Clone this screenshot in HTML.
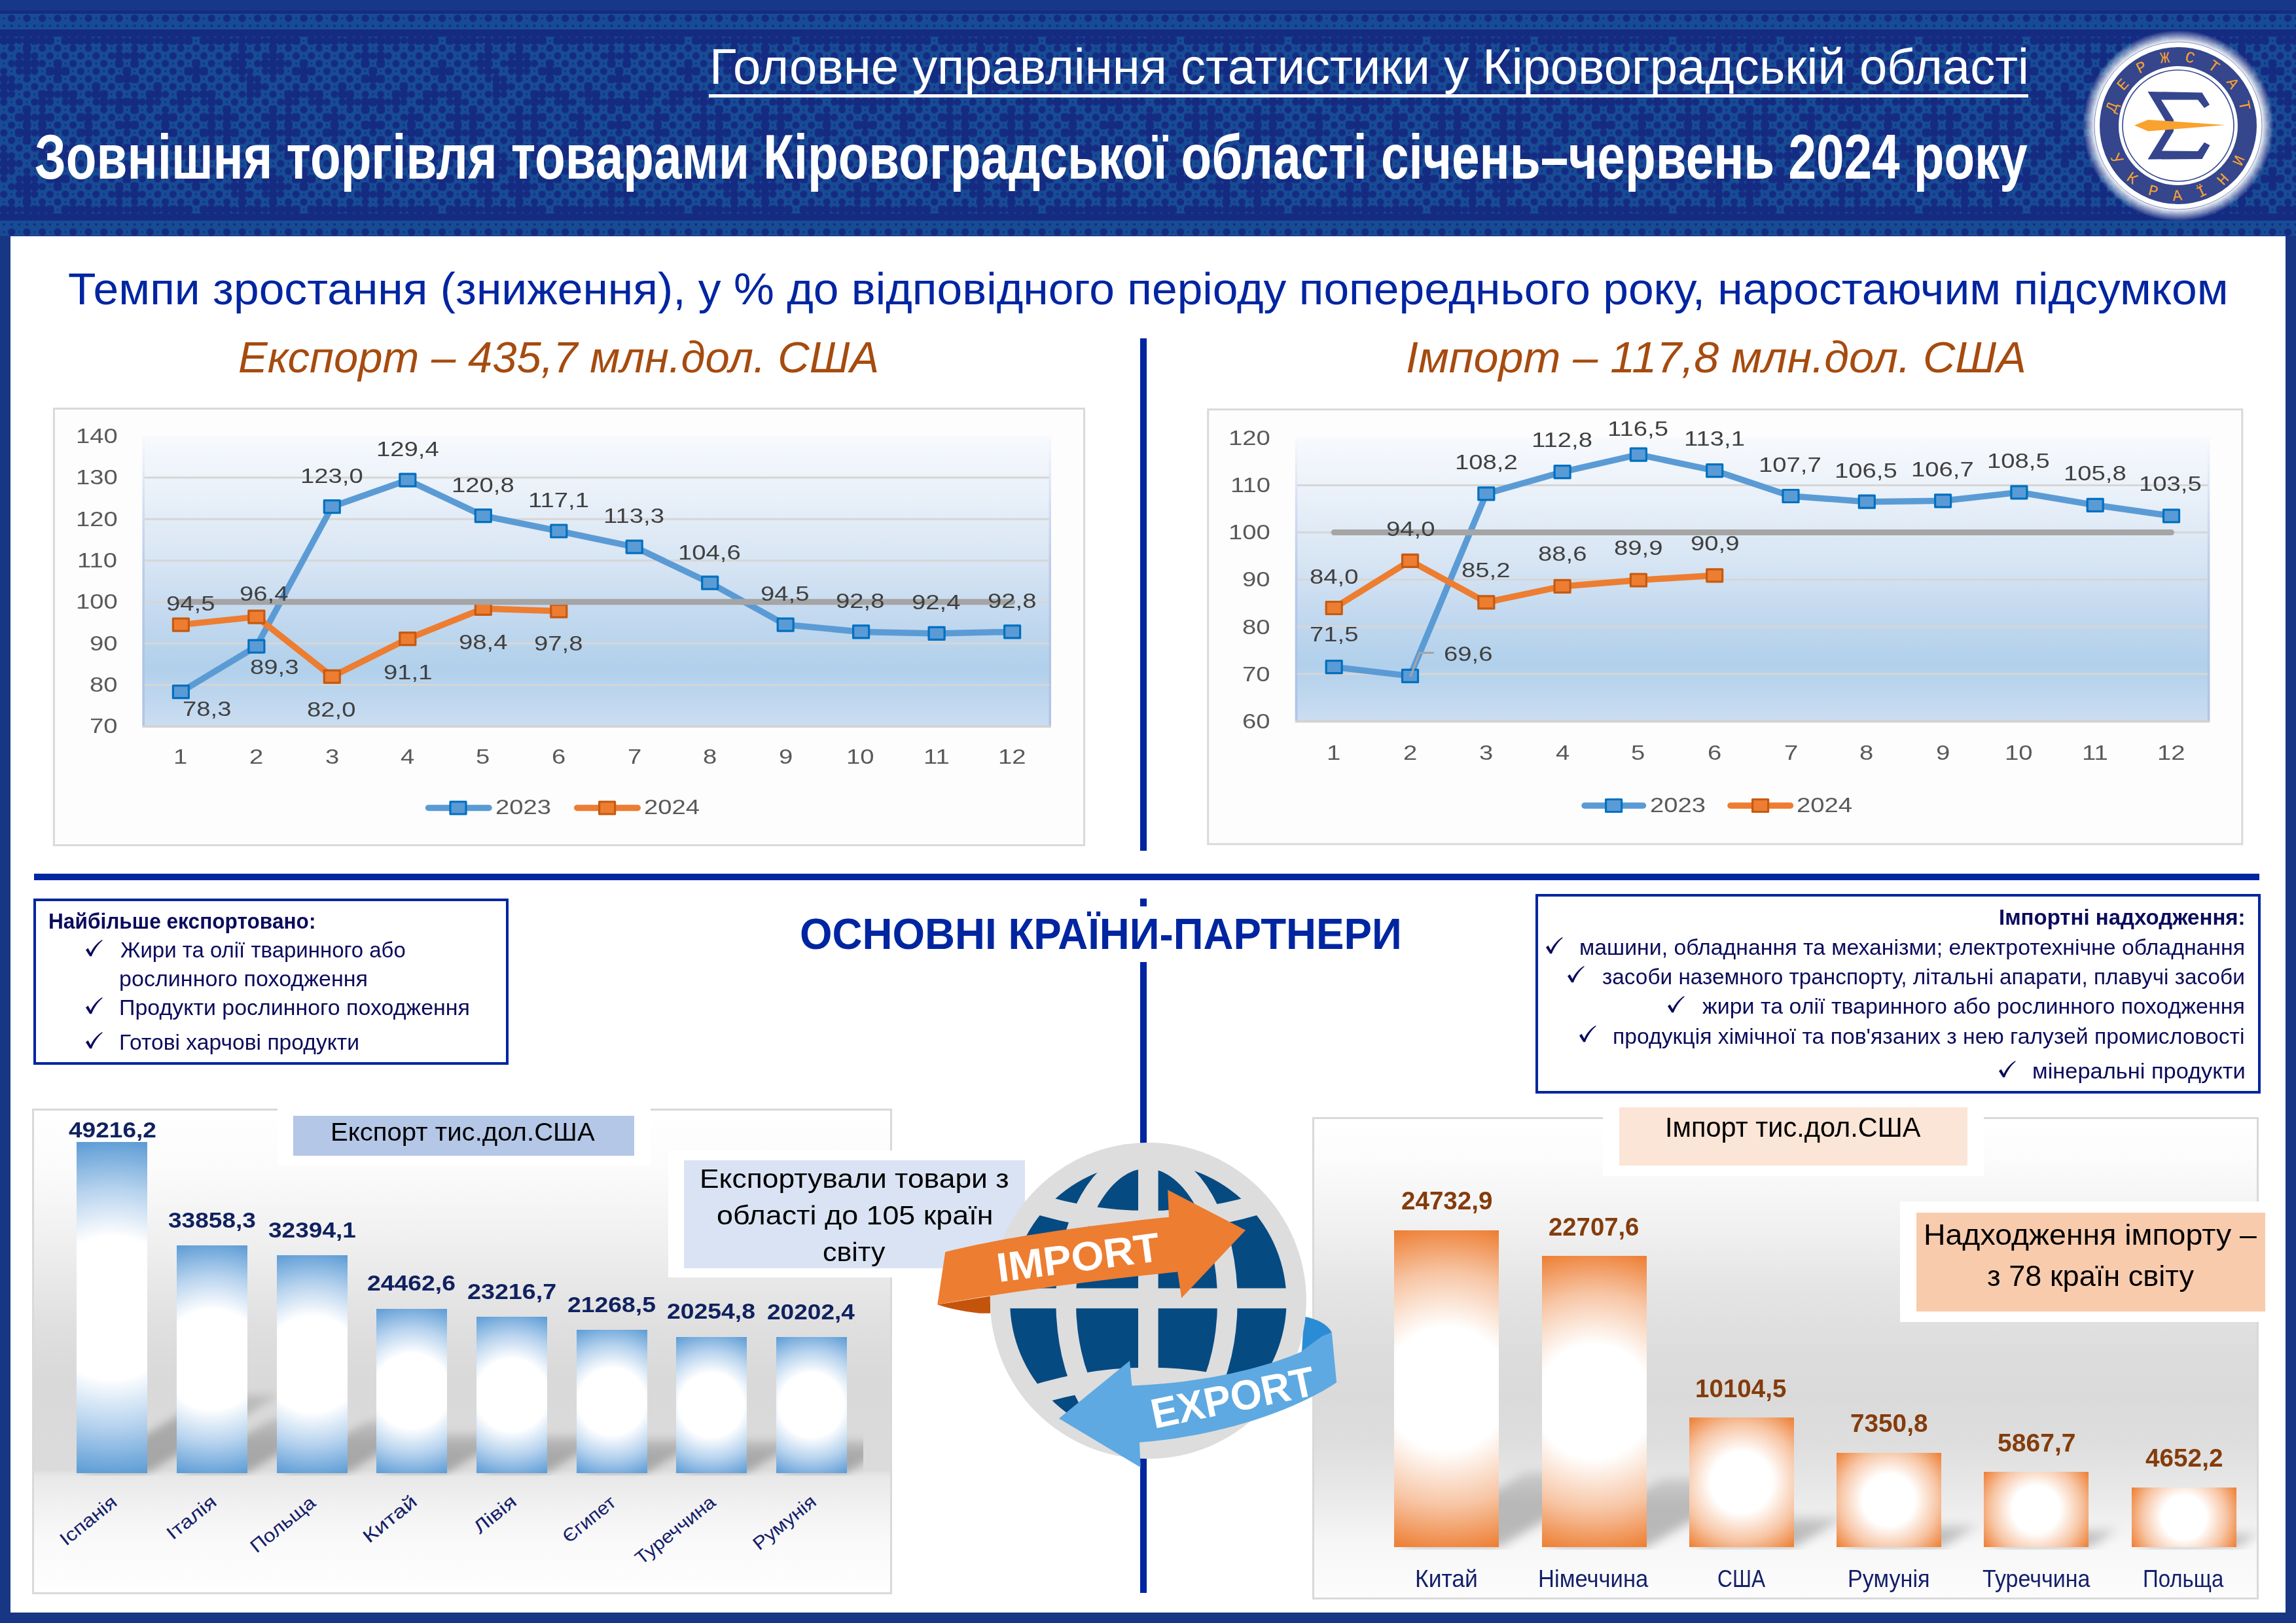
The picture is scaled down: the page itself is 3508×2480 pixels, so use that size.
<!DOCTYPE html>
<html lang="uk"><head><meta charset="utf-8"><title>Зовнішня торгівля товарами Кіровоградської області</title>
<style>
html,body{margin:0;padding:0;}
body{width:3508px;height:2480px;position:relative;overflow:hidden;background:#fff;font-family:"Liberation Sans",sans-serif;}
.a{position:absolute;}
.t{position:absolute;white-space:nowrap;line-height:1em;margin:0;padding:0;}
svg{position:absolute;left:0;top:0;overflow:visible;}
</style></head><body>
<div class="a" style="left:0.0px;top:0.0px;width:3508.0px;height:2480.0px;background:#173683;"></div>
<div class="a" style="left:16.0px;top:360.5px;width:3476.0px;height:2103.5px;background:#fff;"></div>
<svg width="3508" height="361" viewBox="0 0 3508 361">
<defs>
<pattern id="pm" x="0" y="56" width="376.0" height="270.25" patternUnits="userSpaceOnUse">
<rect width="376.0" height="270.25" fill="#174c95"/><g fill="#152b82"><rect x="0.00" y="0.00" width="12.35" height="12.35" rx="4.5"/><rect x="11.15" y="0.00" width="12.95" height="12.35" rx="4.5"/><circle cx="29.38" cy="5.88" r="5.6"/><rect x="34.65" y="0.00" width="12.95" height="12.35" rx="4.5"/><rect x="46.40" y="0.00" width="12.95" height="12.35" rx="4.5"/><rect x="58.15" y="0.00" width="12.95" height="12.35" rx="4.5"/><rect x="69.90" y="0.00" width="12.95" height="12.35" rx="4.5"/><circle cx="88.12" cy="5.88" r="1.5"/><rect x="93.40" y="0.00" width="12.95" height="12.35" rx="4.5"/><rect x="105.15" y="0.00" width="12.95" height="12.35" rx="4.5"/><rect x="116.90" y="0.00" width="12.95" height="12.35" rx="4.5"/><rect x="128.65" y="0.00" width="12.95" height="12.35" rx="4.5"/><circle cx="146.88" cy="5.88" r="5.6"/><rect x="152.15" y="0.00" width="12.95" height="12.35" rx="4.5"/><rect x="163.90" y="0.00" width="12.95" height="12.35" rx="4.5"/><rect x="175.65" y="0.00" width="12.95" height="12.35" rx="4.5"/><circle cx="193.88" cy="5.88" r="5.6"/><rect x="199.15" y="0.00" width="12.95" height="12.35" rx="4.5"/><rect x="210.90" y="0.00" width="12.95" height="12.35" rx="4.5"/><rect x="222.65" y="0.00" width="12.95" height="12.35" rx="4.5"/><circle cx="240.88" cy="5.88" r="5.6"/><rect x="246.15" y="0.00" width="12.95" height="12.35" rx="4.5"/><rect x="257.90" y="0.00" width="12.95" height="12.35" rx="4.5"/><rect x="269.65" y="0.00" width="12.95" height="12.35" rx="4.5"/><rect x="281.40" y="0.00" width="12.95" height="12.35" rx="4.5"/><circle cx="299.62" cy="5.88" r="1.5"/><rect x="304.90" y="0.00" width="12.95" height="12.35" rx="4.5"/><rect x="316.65" y="0.00" width="12.95" height="12.35" rx="4.5"/><rect x="328.40" y="0.00" width="12.95" height="12.35" rx="4.5"/><rect x="340.15" y="0.00" width="12.95" height="12.35" rx="4.5"/><circle cx="358.38" cy="5.88" r="5.6"/><rect x="363.65" y="0.00" width="12.35" height="12.35" rx="4.5"/><circle cx="5.88" cy="17.62" r="1.5"/><circle cx="17.62" cy="17.62" r="5.6"/><circle cx="29.38" cy="17.62" r="1.5"/><rect x="34.65" y="11.15" width="12.95" height="12.95" rx="4.5"/><circle cx="52.88" cy="17.62" r="1.5"/><circle cx="64.62" cy="17.62" r="5.6"/><circle cx="76.38" cy="17.62" r="1.5"/><circle cx="88.12" cy="17.62" r="5.6"/><circle cx="99.88" cy="17.62" r="1.5"/><circle cx="111.62" cy="17.62" r="5.6"/><circle cx="123.38" cy="17.62" r="1.5"/><circle cx="135.12" cy="17.62" r="5.6"/><circle cx="146.88" cy="17.62" r="1.5"/><circle cx="158.62" cy="17.62" r="5.6"/><circle cx="170.38" cy="17.62" r="1.5"/><circle cx="182.12" cy="17.62" r="5.6"/><circle cx="193.88" cy="17.62" r="1.5"/><circle cx="205.62" cy="17.62" r="5.6"/><circle cx="217.38" cy="17.62" r="1.5"/><circle cx="229.12" cy="17.62" r="5.6"/><circle cx="240.88" cy="17.62" r="1.5"/><circle cx="252.62" cy="17.62" r="5.6"/><circle cx="264.38" cy="17.62" r="1.5"/><circle cx="276.12" cy="17.62" r="5.6"/><circle cx="287.88" cy="17.62" r="1.5"/><circle cx="299.62" cy="17.62" r="5.6"/><circle cx="311.38" cy="17.62" r="1.5"/><circle cx="323.12" cy="17.62" r="5.6"/><circle cx="334.88" cy="17.62" r="1.5"/><circle cx="346.62" cy="17.62" r="5.6"/><circle cx="358.38" cy="17.62" r="1.5"/><rect x="363.65" y="11.15" width="12.35" height="12.95" rx="4.5"/><circle cx="5.88" cy="29.38" r="5.6"/><circle cx="17.62" cy="29.38" r="1.5"/><circle cx="29.38" cy="29.38" r="5.6"/><rect x="34.65" y="22.90" width="12.95" height="12.95" rx="4.5"/><circle cx="52.88" cy="29.38" r="5.6"/><circle cx="64.62" cy="29.38" r="1.5"/><circle cx="76.38" cy="29.38" r="5.6"/><circle cx="88.12" cy="29.38" r="1.5"/><circle cx="99.88" cy="29.38" r="5.6"/><circle cx="111.62" cy="29.38" r="1.5"/><circle cx="123.38" cy="29.38" r="5.6"/><circle cx="135.12" cy="29.38" r="1.5"/><circle cx="146.88" cy="29.38" r="5.6"/><circle cx="158.62" cy="29.38" r="1.5"/><circle cx="170.38" cy="29.38" r="5.6"/><rect x="175.65" y="22.90" width="12.95" height="12.95" rx="4.5"/><circle cx="193.88" cy="29.38" r="5.6"/><rect x="199.15" y="22.90" width="12.95" height="12.95" rx="4.5"/><circle cx="217.38" cy="29.38" r="5.6"/><circle cx="229.12" cy="29.38" r="1.5"/><circle cx="240.88" cy="29.38" r="5.6"/><circle cx="252.62" cy="29.38" r="1.5"/><circle cx="264.38" cy="29.38" r="5.6"/><circle cx="276.12" cy="29.38" r="1.5"/><circle cx="287.88" cy="29.38" r="5.6"/><circle cx="299.62" cy="29.38" r="1.5"/><circle cx="311.38" cy="29.38" r="5.6"/><circle cx="323.12" cy="29.38" r="1.5"/><circle cx="334.88" cy="29.38" r="5.6"/><circle cx="346.62" cy="29.38" r="1.5"/><circle cx="358.38" cy="29.38" r="5.6"/><rect x="363.65" y="22.90" width="12.35" height="12.95" rx="4.5"/><circle cx="5.88" cy="41.12" r="1.5"/><circle cx="17.62" cy="41.12" r="5.6"/><rect x="22.90" y="34.65" width="12.95" height="12.95" rx="4.5"/><rect x="34.65" y="34.65" width="12.95" height="12.95" rx="4.5"/><rect x="46.40" y="34.65" width="12.95" height="12.95" rx="4.5"/><circle cx="64.62" cy="41.12" r="5.6"/><circle cx="76.38" cy="41.12" r="1.5"/><rect x="81.65" y="34.65" width="12.95" height="12.95" rx="4.5"/><circle cx="99.88" cy="41.12" r="1.5"/><circle cx="111.62" cy="41.12" r="5.6"/><circle cx="123.38" cy="41.12" r="1.5"/><circle cx="135.12" cy="41.12" r="5.6"/><circle cx="146.88" cy="41.12" r="1.5"/><circle cx="158.62" cy="41.12" r="5.6"/><circle cx="170.38" cy="41.12" r="1.5"/><rect x="175.65" y="34.65" width="12.95" height="12.95" rx="4.5"/><circle cx="193.88" cy="41.12" r="1.5"/><rect x="199.15" y="34.65" width="12.95" height="12.95" rx="4.5"/><circle cx="217.38" cy="41.12" r="1.5"/><circle cx="229.12" cy="41.12" r="5.6"/><circle cx="240.88" cy="41.12" r="1.5"/><circle cx="252.62" cy="41.12" r="5.6"/><circle cx="264.38" cy="41.12" r="1.5"/><circle cx="276.12" cy="41.12" r="5.6"/><circle cx="287.88" cy="41.12" r="1.5"/><rect x="293.15" y="34.65" width="12.95" height="12.95" rx="4.5"/><circle cx="311.38" cy="41.12" r="1.5"/><circle cx="323.12" cy="41.12" r="5.6"/><circle cx="334.88" cy="41.12" r="1.5"/><circle cx="346.62" cy="41.12" r="5.6"/><rect x="351.90" y="34.65" width="12.95" height="12.95" rx="4.5"/><rect x="363.65" y="34.65" width="12.35" height="12.95" rx="4.5"/><circle cx="5.88" cy="52.88" r="5.6"/><circle cx="17.62" cy="52.88" r="1.5"/><circle cx="29.38" cy="52.88" r="5.6"/><rect x="34.65" y="46.40" width="12.95" height="12.95" rx="4.5"/><circle cx="52.88" cy="52.88" r="5.6"/><circle cx="64.62" cy="52.88" r="1.5"/><rect x="69.90" y="46.40" width="12.95" height="12.95" rx="4.5"/><rect x="81.65" y="46.40" width="12.95" height="12.95" rx="4.5"/><rect x="93.40" y="46.40" width="12.95" height="12.95" rx="4.5"/><circle cx="111.62" cy="52.88" r="1.5"/><circle cx="123.38" cy="52.88" r="5.6"/><circle cx="135.12" cy="52.88" r="1.5"/><circle cx="146.88" cy="52.88" r="5.6"/><circle cx="158.62" cy="52.88" r="1.5"/><circle cx="170.38" cy="52.88" r="5.6"/><circle cx="182.12" cy="52.88" r="1.5"/><rect x="187.40" y="46.40" width="12.95" height="12.95" rx="4.5"/><circle cx="205.62" cy="52.88" r="1.5"/><circle cx="217.38" cy="52.88" r="5.6"/><circle cx="229.12" cy="52.88" r="1.5"/><circle cx="240.88" cy="52.88" r="5.6"/><circle cx="252.62" cy="52.88" r="1.5"/><circle cx="264.38" cy="52.88" r="5.6"/><circle cx="276.12" cy="52.88" r="1.5"/><rect x="281.40" y="46.40" width="12.95" height="12.95" rx="4.5"/><rect x="293.15" y="46.40" width="12.95" height="12.95" rx="4.5"/><rect x="304.90" y="46.40" width="12.95" height="12.95" rx="4.5"/><circle cx="323.12" cy="52.88" r="1.5"/><circle cx="334.88" cy="52.88" r="5.6"/><circle cx="346.62" cy="52.88" r="1.5"/><circle cx="358.38" cy="52.88" r="5.6"/><rect x="363.65" y="46.40" width="12.35" height="12.95" rx="4.5"/><rect x="0.00" y="58.15" width="12.35" height="12.95" rx="4.5"/><circle cx="17.62" cy="64.62" r="5.6"/><circle cx="29.38" cy="64.62" r="1.5"/><circle cx="41.12" cy="64.62" r="5.6"/><circle cx="52.88" cy="64.62" r="1.5"/><circle cx="64.62" cy="64.62" r="5.6"/><circle cx="76.38" cy="64.62" r="1.5"/><rect x="81.65" y="58.15" width="12.95" height="12.95" rx="4.5"/><circle cx="99.88" cy="64.62" r="1.5"/><circle cx="111.62" cy="64.62" r="5.6"/><circle cx="123.38" cy="64.62" r="1.5"/><circle cx="135.12" cy="64.62" r="5.6"/><circle cx="146.88" cy="64.62" r="1.5"/><circle cx="158.62" cy="64.62" r="5.6"/><circle cx="170.38" cy="64.62" r="1.5"/><rect x="175.65" y="58.15" width="12.95" height="12.95" rx="4.5"/><rect x="187.40" y="58.15" width="12.95" height="12.95" rx="4.5"/><rect x="199.15" y="58.15" width="12.95" height="12.95" rx="4.5"/><circle cx="217.38" cy="64.62" r="1.5"/><circle cx="229.12" cy="64.62" r="5.6"/><circle cx="240.88" cy="64.62" r="1.5"/><circle cx="252.62" cy="64.62" r="5.6"/><circle cx="264.38" cy="64.62" r="1.5"/><circle cx="276.12" cy="64.62" r="5.6"/><circle cx="287.88" cy="64.62" r="1.5"/><rect x="293.15" y="58.15" width="12.95" height="12.95" rx="4.5"/><circle cx="311.38" cy="64.62" r="1.5"/><circle cx="323.12" cy="64.62" r="5.6"/><circle cx="334.88" cy="64.62" r="1.5"/><circle cx="346.62" cy="64.62" r="5.6"/><circle cx="358.38" cy="64.62" r="1.5"/><circle cx="370.12" cy="64.62" r="5.6"/><rect x="0.00" y="69.90" width="12.35" height="12.95" rx="4.5"/><rect x="11.15" y="69.90" width="12.95" height="12.95" rx="4.5"/><circle cx="29.38" cy="76.38" r="5.6"/><circle cx="41.12" cy="76.38" r="1.5"/><circle cx="52.88" cy="76.38" r="5.6"/><circle cx="64.62" cy="76.38" r="1.5"/><circle cx="76.38" cy="76.38" r="5.6"/><circle cx="88.12" cy="76.38" r="1.5"/><circle cx="99.88" cy="76.38" r="5.6"/><circle cx="111.62" cy="76.38" r="1.5"/><circle cx="123.38" cy="76.38" r="5.6"/><circle cx="135.12" cy="76.38" r="1.5"/><rect x="140.40" y="69.90" width="12.95" height="12.95" rx="4.5"/><circle cx="158.62" cy="76.38" r="1.5"/><circle cx="170.38" cy="76.38" r="5.6"/><circle cx="182.12" cy="76.38" r="1.5"/><circle cx="193.88" cy="76.38" r="5.6"/><circle cx="205.62" cy="76.38" r="1.5"/><circle cx="217.38" cy="76.38" r="5.6"/><circle cx="229.12" cy="76.38" r="1.5"/><rect x="234.40" y="69.90" width="12.95" height="12.95" rx="4.5"/><circle cx="252.62" cy="76.38" r="1.5"/><circle cx="264.38" cy="76.38" r="5.6"/><circle cx="276.12" cy="76.38" r="1.5"/><circle cx="287.88" cy="76.38" r="5.6"/><circle cx="299.62" cy="76.38" r="1.5"/><circle cx="311.38" cy="76.38" r="5.6"/><circle cx="323.12" cy="76.38" r="1.5"/><circle cx="334.88" cy="76.38" r="5.6"/><circle cx="346.62" cy="76.38" r="1.5"/><circle cx="358.38" cy="76.38" r="5.6"/><circle cx="370.12" cy="76.38" r="1.5"/><rect x="0.00" y="81.65" width="12.35" height="12.95" rx="4.5"/><circle cx="17.62" cy="88.12" r="5.6"/><circle cx="29.38" cy="88.12" r="1.5"/><circle cx="41.12" cy="88.12" r="5.6"/><circle cx="52.88" cy="88.12" r="1.5"/><rect x="58.15" y="81.65" width="12.95" height="12.95" rx="4.5"/><rect x="69.90" y="81.65" width="12.95" height="12.95" rx="4.5"/><circle cx="88.12" cy="88.12" r="5.6"/><rect x="93.40" y="81.65" width="12.95" height="12.95" rx="4.5"/><rect x="105.15" y="81.65" width="12.95" height="12.95" rx="4.5"/><circle cx="123.38" cy="88.12" r="1.5"/><circle cx="135.12" cy="88.12" r="5.6"/><rect x="140.40" y="81.65" width="12.95" height="12.95" rx="4.5"/><rect x="152.15" y="81.65" width="12.95" height="12.95" rx="4.5"/><circle cx="170.38" cy="88.12" r="1.5"/><circle cx="182.12" cy="88.12" r="5.6"/><circle cx="193.88" cy="88.12" r="1.5"/><circle cx="205.62" cy="88.12" r="5.6"/><circle cx="217.38" cy="88.12" r="1.5"/><rect x="222.65" y="81.65" width="12.95" height="12.95" rx="4.5"/><rect x="234.40" y="81.65" width="12.95" height="12.95" rx="4.5"/><circle cx="252.62" cy="88.12" r="5.6"/><circle cx="264.38" cy="88.12" r="1.5"/><rect x="269.65" y="81.65" width="12.95" height="12.95" rx="4.5"/><rect x="281.40" y="81.65" width="12.95" height="12.95" rx="4.5"/><circle cx="299.62" cy="88.12" r="5.6"/><rect x="304.90" y="81.65" width="12.95" height="12.95" rx="4.5"/><rect x="316.65" y="81.65" width="12.95" height="12.95" rx="4.5"/><circle cx="334.88" cy="88.12" r="1.5"/><circle cx="346.62" cy="88.12" r="5.6"/><circle cx="358.38" cy="88.12" r="1.5"/><circle cx="370.12" cy="88.12" r="5.6"/><circle cx="5.88" cy="99.88" r="5.6"/><circle cx="17.62" cy="99.88" r="1.5"/><circle cx="29.38" cy="99.88" r="5.6"/><circle cx="41.12" cy="99.88" r="1.5"/><circle cx="52.88" cy="99.88" r="5.6"/><rect x="58.15" y="93.40" width="12.95" height="12.95" rx="4.5"/><circle cx="76.38" cy="99.88" r="5.6"/><circle cx="88.12" cy="99.88" r="1.5"/><circle cx="99.88" cy="99.88" r="5.6"/><rect x="105.15" y="93.40" width="12.95" height="12.95" rx="4.5"/><circle cx="123.38" cy="99.88" r="5.6"/><circle cx="135.12" cy="99.88" r="1.5"/><circle cx="146.88" cy="99.88" r="5.6"/><rect x="152.15" y="93.40" width="12.95" height="12.95" rx="4.5"/><circle cx="170.38" cy="99.88" r="5.6"/><rect x="175.65" y="93.40" width="12.95" height="12.95" rx="4.5"/><rect x="187.40" y="93.40" width="12.95" height="12.95" rx="4.5"/><rect x="199.15" y="93.40" width="12.95" height="12.95" rx="4.5"/><circle cx="217.38" cy="99.88" r="5.6"/><rect x="222.65" y="93.40" width="12.95" height="12.95" rx="4.5"/><circle cx="240.88" cy="99.88" r="5.6"/><circle cx="252.62" cy="99.88" r="1.5"/><circle cx="264.38" cy="99.88" r="5.6"/><rect x="269.65" y="93.40" width="12.95" height="12.95" rx="4.5"/><circle cx="287.88" cy="99.88" r="5.6"/><circle cx="299.62" cy="99.88" r="1.5"/><circle cx="311.38" cy="99.88" r="5.6"/><rect x="316.65" y="93.40" width="12.95" height="12.95" rx="4.5"/><circle cx="334.88" cy="99.88" r="5.6"/><circle cx="346.62" cy="99.88" r="1.5"/><circle cx="358.38" cy="99.88" r="5.6"/><circle cx="370.12" cy="99.88" r="1.5"/><circle cx="5.88" cy="111.62" r="1.5"/><circle cx="17.62" cy="111.62" r="5.6"/><circle cx="29.38" cy="111.62" r="1.5"/><rect x="34.65" y="105.15" width="12.95" height="12.95" rx="4.5"/><circle cx="52.88" cy="111.62" r="1.5"/><circle cx="64.62" cy="111.62" r="5.6"/><circle cx="76.38" cy="111.62" r="1.5"/><circle cx="88.12" cy="111.62" r="5.6"/><circle cx="99.88" cy="111.62" r="1.5"/><circle cx="111.62" cy="111.62" r="5.6"/><circle cx="123.38" cy="111.62" r="1.5"/><circle cx="135.12" cy="111.62" r="5.6"/><circle cx="146.88" cy="111.62" r="1.5"/><circle cx="158.62" cy="111.62" r="5.6"/><circle cx="170.38" cy="111.62" r="1.5"/><rect x="175.65" y="105.15" width="12.95" height="12.95" rx="4.5"/><circle cx="193.88" cy="111.62" r="1.5"/><rect x="199.15" y="105.15" width="12.95" height="12.95" rx="4.5"/><circle cx="217.38" cy="111.62" r="1.5"/><circle cx="229.12" cy="111.62" r="5.6"/><circle cx="240.88" cy="111.62" r="1.5"/><circle cx="252.62" cy="111.62" r="5.6"/><circle cx="264.38" cy="111.62" r="1.5"/><circle cx="276.12" cy="111.62" r="5.6"/><circle cx="287.88" cy="111.62" r="1.5"/><circle cx="299.62" cy="111.62" r="5.6"/><circle cx="311.38" cy="111.62" r="1.5"/><circle cx="323.12" cy="111.62" r="5.6"/><circle cx="334.88" cy="111.62" r="1.5"/><rect x="340.15" y="105.15" width="12.95" height="12.95" rx="4.5"/><circle cx="358.38" cy="111.62" r="1.5"/><circle cx="370.12" cy="111.62" r="5.6"/><circle cx="5.88" cy="123.38" r="5.6"/><circle cx="17.62" cy="123.38" r="1.5"/><rect x="22.90" y="116.90" width="12.95" height="12.95" rx="4.5"/><rect x="34.65" y="116.90" width="12.95" height="12.95" rx="4.5"/><circle cx="52.88" cy="123.38" r="5.6"/><rect x="58.15" y="116.90" width="12.95" height="12.95" rx="4.5"/><rect x="69.90" y="116.90" width="12.95" height="12.95" rx="4.5"/><circle cx="88.12" cy="123.38" r="1.5"/><circle cx="99.88" cy="123.38" r="5.6"/><circle cx="111.62" cy="123.38" r="1.5"/><rect x="116.90" y="116.90" width="12.95" height="12.95" rx="4.5"/><rect x="128.65" y="116.90" width="12.95" height="12.95" rx="4.5"/><circle cx="146.88" cy="123.38" r="5.6"/><circle cx="158.62" cy="123.38" r="1.5"/><circle cx="170.38" cy="123.38" r="5.6"/><circle cx="182.12" cy="123.38" r="1.5"/><circle cx="193.88" cy="123.38" r="5.6"/><circle cx="205.62" cy="123.38" r="1.5"/><circle cx="217.38" cy="123.38" r="5.6"/><circle cx="229.12" cy="123.38" r="1.5"/><circle cx="240.88" cy="123.38" r="5.6"/><rect x="246.15" y="116.90" width="12.95" height="12.95" rx="4.5"/><rect x="257.90" y="116.90" width="12.95" height="12.95" rx="4.5"/><circle cx="276.12" cy="123.38" r="1.5"/><circle cx="287.88" cy="123.38" r="5.6"/><circle cx="299.62" cy="123.38" r="1.5"/><rect x="304.90" y="116.90" width="12.95" height="12.95" rx="4.5"/><rect x="316.65" y="116.90" width="12.95" height="12.95" rx="4.5"/><circle cx="334.88" cy="123.38" r="5.6"/><rect x="340.15" y="116.90" width="12.95" height="12.95" rx="4.5"/><rect x="351.90" y="116.90" width="12.95" height="12.95" rx="4.5"/><circle cx="370.12" cy="123.38" r="1.5"/><circle cx="5.88" cy="135.12" r="1.5"/><circle cx="17.62" cy="135.12" r="5.6"/><circle cx="29.38" cy="135.12" r="1.5"/><rect x="34.65" y="128.65" width="12.95" height="12.95" rx="4.5"/><circle cx="52.88" cy="135.12" r="1.5"/><rect x="58.15" y="128.65" width="12.95" height="12.95" rx="4.5"/><circle cx="76.38" cy="135.12" r="1.5"/><circle cx="88.12" cy="135.12" r="5.6"/><circle cx="99.88" cy="135.12" r="1.5"/><circle cx="111.62" cy="135.12" r="5.6"/><circle cx="123.38" cy="135.12" r="1.5"/><rect x="128.65" y="128.65" width="12.95" height="12.95" rx="4.5"/><circle cx="146.88" cy="135.12" r="1.5"/><circle cx="158.62" cy="135.12" r="5.6"/><circle cx="170.38" cy="135.12" r="1.5"/><rect x="175.65" y="128.65" width="12.95" height="12.95" rx="4.5"/><rect x="187.40" y="128.65" width="12.95" height="12.95" rx="4.5"/><rect x="199.15" y="128.65" width="12.95" height="12.95" rx="4.5"/><circle cx="217.38" cy="135.12" r="1.5"/><circle cx="229.12" cy="135.12" r="5.6"/><circle cx="240.88" cy="135.12" r="1.5"/><rect x="246.15" y="128.65" width="12.95" height="12.95" rx="4.5"/><circle cx="264.38" cy="135.12" r="1.5"/><circle cx="276.12" cy="135.12" r="5.6"/><circle cx="287.88" cy="135.12" r="1.5"/><circle cx="299.62" cy="135.12" r="5.6"/><circle cx="311.38" cy="135.12" r="1.5"/><rect x="316.65" y="128.65" width="12.95" height="12.95" rx="4.5"/><circle cx="334.88" cy="135.12" r="1.5"/><rect x="340.15" y="128.65" width="12.95" height="12.95" rx="4.5"/><circle cx="358.38" cy="135.12" r="1.5"/><circle cx="370.12" cy="135.12" r="5.6"/><circle cx="5.88" cy="146.88" r="5.6"/><circle cx="17.62" cy="146.88" r="1.5"/><rect x="22.90" y="140.40" width="12.95" height="12.95" rx="4.5"/><rect x="34.65" y="140.40" width="12.95" height="12.95" rx="4.5"/><circle cx="52.88" cy="146.88" r="5.6"/><rect x="58.15" y="140.40" width="12.95" height="12.95" rx="4.5"/><rect x="69.90" y="140.40" width="12.95" height="12.95" rx="4.5"/><circle cx="88.12" cy="146.88" r="1.5"/><circle cx="99.88" cy="146.88" r="5.6"/><circle cx="111.62" cy="146.88" r="1.5"/><rect x="116.90" y="140.40" width="12.95" height="12.95" rx="4.5"/><rect x="128.65" y="140.40" width="12.95" height="12.95" rx="4.5"/><circle cx="146.88" cy="146.88" r="5.6"/><circle cx="158.62" cy="146.88" r="1.5"/><circle cx="170.38" cy="146.88" r="5.6"/><circle cx="182.12" cy="146.88" r="1.5"/><circle cx="193.88" cy="146.88" r="5.6"/><circle cx="205.62" cy="146.88" r="1.5"/><circle cx="217.38" cy="146.88" r="5.6"/><circle cx="229.12" cy="146.88" r="1.5"/><circle cx="240.88" cy="146.88" r="5.6"/><rect x="246.15" y="140.40" width="12.95" height="12.95" rx="4.5"/><rect x="257.90" y="140.40" width="12.95" height="12.95" rx="4.5"/><circle cx="276.12" cy="146.88" r="1.5"/><circle cx="287.88" cy="146.88" r="5.6"/><circle cx="299.62" cy="146.88" r="1.5"/><rect x="304.90" y="140.40" width="12.95" height="12.95" rx="4.5"/><rect x="316.65" y="140.40" width="12.95" height="12.95" rx="4.5"/><circle cx="334.88" cy="146.88" r="5.6"/><rect x="340.15" y="140.40" width="12.95" height="12.95" rx="4.5"/><rect x="351.90" y="140.40" width="12.95" height="12.95" rx="4.5"/><circle cx="370.12" cy="146.88" r="1.5"/><circle cx="5.88" cy="158.62" r="1.5"/><circle cx="17.62" cy="158.62" r="5.6"/><circle cx="29.38" cy="158.62" r="1.5"/><rect x="34.65" y="152.15" width="12.95" height="12.95" rx="4.5"/><circle cx="52.88" cy="158.62" r="1.5"/><circle cx="64.62" cy="158.62" r="5.6"/><circle cx="76.38" cy="158.62" r="1.5"/><circle cx="88.12" cy="158.62" r="5.6"/><circle cx="99.88" cy="158.62" r="1.5"/><circle cx="111.62" cy="158.62" r="5.6"/><circle cx="123.38" cy="158.62" r="1.5"/><circle cx="135.12" cy="158.62" r="5.6"/><circle cx="146.88" cy="158.62" r="1.5"/><circle cx="158.62" cy="158.62" r="5.6"/><circle cx="170.38" cy="158.62" r="1.5"/><rect x="175.65" y="152.15" width="12.95" height="12.95" rx="4.5"/><circle cx="193.88" cy="158.62" r="1.5"/><rect x="199.15" y="152.15" width="12.95" height="12.95" rx="4.5"/><circle cx="217.38" cy="158.62" r="1.5"/><circle cx="229.12" cy="158.62" r="5.6"/><circle cx="240.88" cy="158.62" r="1.5"/><circle cx="252.62" cy="158.62" r="5.6"/><circle cx="264.38" cy="158.62" r="1.5"/><circle cx="276.12" cy="158.62" r="5.6"/><circle cx="287.88" cy="158.62" r="1.5"/><circle cx="299.62" cy="158.62" r="5.6"/><circle cx="311.38" cy="158.62" r="1.5"/><circle cx="323.12" cy="158.62" r="5.6"/><circle cx="334.88" cy="158.62" r="1.5"/><rect x="340.15" y="152.15" width="12.95" height="12.95" rx="4.5"/><circle cx="358.38" cy="158.62" r="1.5"/><circle cx="370.12" cy="158.62" r="5.6"/><circle cx="5.88" cy="170.38" r="5.6"/><circle cx="17.62" cy="170.38" r="1.5"/><circle cx="29.38" cy="170.38" r="5.6"/><circle cx="41.12" cy="170.38" r="1.5"/><circle cx="52.88" cy="170.38" r="5.6"/><rect x="58.15" y="163.90" width="12.95" height="12.95" rx="4.5"/><circle cx="76.38" cy="170.38" r="5.6"/><circle cx="88.12" cy="170.38" r="1.5"/><circle cx="99.88" cy="170.38" r="5.6"/><rect x="105.15" y="163.90" width="12.95" height="12.95" rx="4.5"/><circle cx="123.38" cy="170.38" r="5.6"/><circle cx="135.12" cy="170.38" r="1.5"/><circle cx="146.88" cy="170.38" r="5.6"/><rect x="152.15" y="163.90" width="12.95" height="12.95" rx="4.5"/><circle cx="170.38" cy="170.38" r="5.6"/><rect x="175.65" y="163.90" width="12.95" height="12.95" rx="4.5"/><rect x="187.40" y="163.90" width="12.95" height="12.95" rx="4.5"/><rect x="199.15" y="163.90" width="12.95" height="12.95" rx="4.5"/><circle cx="217.38" cy="170.38" r="5.6"/><rect x="222.65" y="163.90" width="12.95" height="12.95" rx="4.5"/><circle cx="240.88" cy="170.38" r="5.6"/><circle cx="252.62" cy="170.38" r="1.5"/><circle cx="264.38" cy="170.38" r="5.6"/><rect x="269.65" y="163.90" width="12.95" height="12.95" rx="4.5"/><circle cx="287.88" cy="170.38" r="5.6"/><circle cx="299.62" cy="170.38" r="1.5"/><circle cx="311.38" cy="170.38" r="5.6"/><rect x="316.65" y="163.90" width="12.95" height="12.95" rx="4.5"/><circle cx="334.88" cy="170.38" r="5.6"/><circle cx="346.62" cy="170.38" r="1.5"/><circle cx="358.38" cy="170.38" r="5.6"/><circle cx="370.12" cy="170.38" r="1.5"/><rect x="0.00" y="175.65" width="12.35" height="12.95" rx="4.5"/><circle cx="17.62" cy="182.12" r="5.6"/><circle cx="29.38" cy="182.12" r="1.5"/><circle cx="41.12" cy="182.12" r="5.6"/><circle cx="52.88" cy="182.12" r="1.5"/><rect x="58.15" y="175.65" width="12.95" height="12.95" rx="4.5"/><rect x="69.90" y="175.65" width="12.95" height="12.95" rx="4.5"/><circle cx="88.12" cy="182.12" r="5.6"/><rect x="93.40" y="175.65" width="12.95" height="12.95" rx="4.5"/><rect x="105.15" y="175.65" width="12.95" height="12.95" rx="4.5"/><circle cx="123.38" cy="182.12" r="1.5"/><circle cx="135.12" cy="182.12" r="5.6"/><rect x="140.40" y="175.65" width="12.95" height="12.95" rx="4.5"/><rect x="152.15" y="175.65" width="12.95" height="12.95" rx="4.5"/><circle cx="170.38" cy="182.12" r="1.5"/><circle cx="182.12" cy="182.12" r="5.6"/><circle cx="193.88" cy="182.12" r="1.5"/><circle cx="205.62" cy="182.12" r="5.6"/><circle cx="217.38" cy="182.12" r="1.5"/><rect x="222.65" y="175.65" width="12.95" height="12.95" rx="4.5"/><rect x="234.40" y="175.65" width="12.95" height="12.95" rx="4.5"/><circle cx="252.62" cy="182.12" r="5.6"/><circle cx="264.38" cy="182.12" r="1.5"/><rect x="269.65" y="175.65" width="12.95" height="12.95" rx="4.5"/><rect x="281.40" y="175.65" width="12.95" height="12.95" rx="4.5"/><circle cx="299.62" cy="182.12" r="5.6"/><rect x="304.90" y="175.65" width="12.95" height="12.95" rx="4.5"/><rect x="316.65" y="175.65" width="12.95" height="12.95" rx="4.5"/><circle cx="334.88" cy="182.12" r="1.5"/><circle cx="346.62" cy="182.12" r="5.6"/><circle cx="358.38" cy="182.12" r="1.5"/><circle cx="370.12" cy="182.12" r="5.6"/><rect x="0.00" y="187.40" width="12.35" height="12.95" rx="4.5"/><rect x="11.15" y="187.40" width="12.95" height="12.95" rx="4.5"/><circle cx="29.38" cy="193.88" r="5.6"/><circle cx="41.12" cy="193.88" r="1.5"/><circle cx="52.88" cy="193.88" r="5.6"/><circle cx="64.62" cy="193.88" r="1.5"/><circle cx="76.38" cy="193.88" r="5.6"/><circle cx="88.12" cy="193.88" r="1.5"/><circle cx="99.88" cy="193.88" r="5.6"/><circle cx="111.62" cy="193.88" r="1.5"/><circle cx="123.38" cy="193.88" r="5.6"/><circle cx="135.12" cy="193.88" r="1.5"/><rect x="140.40" y="187.40" width="12.95" height="12.95" rx="4.5"/><circle cx="158.62" cy="193.88" r="1.5"/><circle cx="170.38" cy="193.88" r="5.6"/><circle cx="182.12" cy="193.88" r="1.5"/><circle cx="193.88" cy="193.88" r="5.6"/><circle cx="205.62" cy="193.88" r="1.5"/><circle cx="217.38" cy="193.88" r="5.6"/><circle cx="229.12" cy="193.88" r="1.5"/><rect x="234.40" y="187.40" width="12.95" height="12.95" rx="4.5"/><circle cx="252.62" cy="193.88" r="1.5"/><circle cx="264.38" cy="193.88" r="5.6"/><circle cx="276.12" cy="193.88" r="1.5"/><circle cx="287.88" cy="193.88" r="5.6"/><circle cx="299.62" cy="193.88" r="1.5"/><circle cx="311.38" cy="193.88" r="5.6"/><circle cx="323.12" cy="193.88" r="1.5"/><circle cx="334.88" cy="193.88" r="5.6"/><circle cx="346.62" cy="193.88" r="1.5"/><circle cx="358.38" cy="193.88" r="5.6"/><circle cx="370.12" cy="193.88" r="1.5"/><rect x="0.00" y="199.15" width="12.35" height="12.95" rx="4.5"/><circle cx="17.62" cy="205.62" r="5.6"/><circle cx="29.38" cy="205.62" r="1.5"/><circle cx="41.12" cy="205.62" r="5.6"/><circle cx="52.88" cy="205.62" r="1.5"/><circle cx="64.62" cy="205.62" r="5.6"/><circle cx="76.38" cy="205.62" r="1.5"/><rect x="81.65" y="199.15" width="12.95" height="12.95" rx="4.5"/><circle cx="99.88" cy="205.62" r="1.5"/><circle cx="111.62" cy="205.62" r="5.6"/><circle cx="123.38" cy="205.62" r="1.5"/><circle cx="135.12" cy="205.62" r="5.6"/><circle cx="146.88" cy="205.62" r="1.5"/><circle cx="158.62" cy="205.62" r="5.6"/><circle cx="170.38" cy="205.62" r="1.5"/><rect x="175.65" y="199.15" width="12.95" height="12.95" rx="4.5"/><rect x="187.40" y="199.15" width="12.95" height="12.95" rx="4.5"/><rect x="199.15" y="199.15" width="12.95" height="12.95" rx="4.5"/><circle cx="217.38" cy="205.62" r="1.5"/><circle cx="229.12" cy="205.62" r="5.6"/><circle cx="240.88" cy="205.62" r="1.5"/><circle cx="252.62" cy="205.62" r="5.6"/><circle cx="264.38" cy="205.62" r="1.5"/><circle cx="276.12" cy="205.62" r="5.6"/><circle cx="287.88" cy="205.62" r="1.5"/><rect x="293.15" y="199.15" width="12.95" height="12.95" rx="4.5"/><circle cx="311.38" cy="205.62" r="1.5"/><circle cx="323.12" cy="205.62" r="5.6"/><circle cx="334.88" cy="205.62" r="1.5"/><circle cx="346.62" cy="205.62" r="5.6"/><circle cx="358.38" cy="205.62" r="1.5"/><circle cx="370.12" cy="205.62" r="5.6"/><circle cx="5.88" cy="217.38" r="5.6"/><circle cx="17.62" cy="217.38" r="1.5"/><circle cx="29.38" cy="217.38" r="5.6"/><rect x="34.65" y="210.90" width="12.95" height="12.95" rx="4.5"/><circle cx="52.88" cy="217.38" r="5.6"/><circle cx="64.62" cy="217.38" r="1.5"/><rect x="69.90" y="210.90" width="12.95" height="12.95" rx="4.5"/><rect x="81.65" y="210.90" width="12.95" height="12.95" rx="4.5"/><rect x="93.40" y="210.90" width="12.95" height="12.95" rx="4.5"/><circle cx="111.62" cy="217.38" r="1.5"/><circle cx="123.38" cy="217.38" r="5.6"/><circle cx="135.12" cy="217.38" r="1.5"/><circle cx="146.88" cy="217.38" r="5.6"/><circle cx="158.62" cy="217.38" r="1.5"/><circle cx="170.38" cy="217.38" r="5.6"/><circle cx="182.12" cy="217.38" r="1.5"/><rect x="187.40" y="210.90" width="12.95" height="12.95" rx="4.5"/><circle cx="205.62" cy="217.38" r="1.5"/><circle cx="217.38" cy="217.38" r="5.6"/><circle cx="229.12" cy="217.38" r="1.5"/><circle cx="240.88" cy="217.38" r="5.6"/><circle cx="252.62" cy="217.38" r="1.5"/><circle cx="264.38" cy="217.38" r="5.6"/><circle cx="276.12" cy="217.38" r="1.5"/><rect x="281.40" y="210.90" width="12.95" height="12.95" rx="4.5"/><rect x="293.15" y="210.90" width="12.95" height="12.95" rx="4.5"/><rect x="304.90" y="210.90" width="12.95" height="12.95" rx="4.5"/><circle cx="323.12" cy="217.38" r="1.5"/><circle cx="334.88" cy="217.38" r="5.6"/><circle cx="346.62" cy="217.38" r="1.5"/><circle cx="358.38" cy="217.38" r="5.6"/><rect x="363.65" y="210.90" width="12.35" height="12.95" rx="4.5"/><circle cx="5.88" cy="229.12" r="1.5"/><circle cx="17.62" cy="229.12" r="5.6"/><rect x="22.90" y="222.65" width="12.95" height="12.95" rx="4.5"/><rect x="34.65" y="222.65" width="12.95" height="12.95" rx="4.5"/><rect x="46.40" y="222.65" width="12.95" height="12.95" rx="4.5"/><circle cx="64.62" cy="229.12" r="5.6"/><circle cx="76.38" cy="229.12" r="1.5"/><rect x="81.65" y="222.65" width="12.95" height="12.95" rx="4.5"/><circle cx="99.88" cy="229.12" r="1.5"/><circle cx="111.62" cy="229.12" r="5.6"/><circle cx="123.38" cy="229.12" r="1.5"/><circle cx="135.12" cy="229.12" r="5.6"/><circle cx="146.88" cy="229.12" r="1.5"/><circle cx="158.62" cy="229.12" r="5.6"/><circle cx="170.38" cy="229.12" r="1.5"/><rect x="175.65" y="222.65" width="12.95" height="12.95" rx="4.5"/><circle cx="193.88" cy="229.12" r="1.5"/><rect x="199.15" y="222.65" width="12.95" height="12.95" rx="4.5"/><circle cx="217.38" cy="229.12" r="1.5"/><circle cx="229.12" cy="229.12" r="5.6"/><circle cx="240.88" cy="229.12" r="1.5"/><circle cx="252.62" cy="229.12" r="5.6"/><circle cx="264.38" cy="229.12" r="1.5"/><circle cx="276.12" cy="229.12" r="5.6"/><circle cx="287.88" cy="229.12" r="1.5"/><rect x="293.15" y="222.65" width="12.95" height="12.95" rx="4.5"/><circle cx="311.38" cy="229.12" r="1.5"/><circle cx="323.12" cy="229.12" r="5.6"/><circle cx="334.88" cy="229.12" r="1.5"/><circle cx="346.62" cy="229.12" r="5.6"/><rect x="351.90" y="222.65" width="12.95" height="12.95" rx="4.5"/><rect x="363.65" y="222.65" width="12.35" height="12.95" rx="4.5"/><circle cx="5.88" cy="240.88" r="5.6"/><circle cx="17.62" cy="240.88" r="1.5"/><circle cx="29.38" cy="240.88" r="5.6"/><rect x="34.65" y="234.40" width="12.95" height="12.95" rx="4.5"/><circle cx="52.88" cy="240.88" r="5.6"/><circle cx="64.62" cy="240.88" r="1.5"/><circle cx="76.38" cy="240.88" r="5.6"/><circle cx="88.12" cy="240.88" r="1.5"/><circle cx="99.88" cy="240.88" r="5.6"/><circle cx="111.62" cy="240.88" r="1.5"/><circle cx="123.38" cy="240.88" r="5.6"/><circle cx="135.12" cy="240.88" r="1.5"/><circle cx="146.88" cy="240.88" r="5.6"/><circle cx="158.62" cy="240.88" r="1.5"/><circle cx="170.38" cy="240.88" r="5.6"/><rect x="175.65" y="234.40" width="12.95" height="12.95" rx="4.5"/><circle cx="193.88" cy="240.88" r="5.6"/><rect x="199.15" y="234.40" width="12.95" height="12.95" rx="4.5"/><circle cx="217.38" cy="240.88" r="5.6"/><circle cx="229.12" cy="240.88" r="1.5"/><circle cx="240.88" cy="240.88" r="5.6"/><circle cx="252.62" cy="240.88" r="1.5"/><circle cx="264.38" cy="240.88" r="5.6"/><circle cx="276.12" cy="240.88" r="1.5"/><circle cx="287.88" cy="240.88" r="5.6"/><circle cx="299.62" cy="240.88" r="1.5"/><circle cx="311.38" cy="240.88" r="5.6"/><circle cx="323.12" cy="240.88" r="1.5"/><circle cx="334.88" cy="240.88" r="5.6"/><circle cx="346.62" cy="240.88" r="1.5"/><circle cx="358.38" cy="240.88" r="5.6"/><rect x="363.65" y="234.40" width="12.35" height="12.95" rx="4.5"/><circle cx="5.88" cy="252.62" r="1.5"/><circle cx="17.62" cy="252.62" r="5.6"/><circle cx="29.38" cy="252.62" r="1.5"/><rect x="34.65" y="246.15" width="12.95" height="12.95" rx="4.5"/><circle cx="52.88" cy="252.62" r="1.5"/><circle cx="64.62" cy="252.62" r="5.6"/><circle cx="76.38" cy="252.62" r="1.5"/><circle cx="88.12" cy="252.62" r="5.6"/><circle cx="99.88" cy="252.62" r="1.5"/><circle cx="111.62" cy="252.62" r="5.6"/><circle cx="123.38" cy="252.62" r="1.5"/><circle cx="135.12" cy="252.62" r="5.6"/><circle cx="146.88" cy="252.62" r="1.5"/><circle cx="158.62" cy="252.62" r="5.6"/><circle cx="170.38" cy="252.62" r="1.5"/><circle cx="182.12" cy="252.62" r="5.6"/><circle cx="193.88" cy="252.62" r="1.5"/><circle cx="205.62" cy="252.62" r="5.6"/><circle cx="217.38" cy="252.62" r="1.5"/><circle cx="229.12" cy="252.62" r="5.6"/><circle cx="240.88" cy="252.62" r="1.5"/><circle cx="252.62" cy="252.62" r="5.6"/><circle cx="264.38" cy="252.62" r="1.5"/><circle cx="276.12" cy="252.62" r="5.6"/><circle cx="287.88" cy="252.62" r="1.5"/><circle cx="299.62" cy="252.62" r="5.6"/><circle cx="311.38" cy="252.62" r="1.5"/><circle cx="323.12" cy="252.62" r="5.6"/><circle cx="334.88" cy="252.62" r="1.5"/><circle cx="346.62" cy="252.62" r="5.6"/><circle cx="358.38" cy="252.62" r="1.5"/><rect x="363.65" y="246.15" width="12.35" height="12.95" rx="4.5"/><rect x="0.00" y="257.90" width="12.35" height="12.35" rx="4.5"/><rect x="11.15" y="257.90" width="12.95" height="12.35" rx="4.5"/><circle cx="29.38" cy="264.38" r="5.6"/><rect x="34.65" y="257.90" width="12.95" height="12.35" rx="4.5"/><rect x="46.40" y="257.90" width="12.95" height="12.35" rx="4.5"/><rect x="58.15" y="257.90" width="12.95" height="12.35" rx="4.5"/><rect x="69.90" y="257.90" width="12.95" height="12.35" rx="4.5"/><circle cx="88.12" cy="264.38" r="1.5"/><rect x="93.40" y="257.90" width="12.95" height="12.35" rx="4.5"/><rect x="105.15" y="257.90" width="12.95" height="12.35" rx="4.5"/><rect x="116.90" y="257.90" width="12.95" height="12.35" rx="4.5"/><rect x="128.65" y="257.90" width="12.95" height="12.35" rx="4.5"/><circle cx="146.88" cy="264.38" r="5.6"/><rect x="152.15" y="257.90" width="12.95" height="12.35" rx="4.5"/><rect x="163.90" y="257.90" width="12.95" height="12.35" rx="4.5"/><rect x="175.65" y="257.90" width="12.95" height="12.35" rx="4.5"/><circle cx="193.88" cy="264.38" r="5.6"/><rect x="199.15" y="257.90" width="12.95" height="12.35" rx="4.5"/><rect x="210.90" y="257.90" width="12.95" height="12.35" rx="4.5"/><rect x="222.65" y="257.90" width="12.95" height="12.35" rx="4.5"/><circle cx="240.88" cy="264.38" r="5.6"/><rect x="246.15" y="257.90" width="12.95" height="12.35" rx="4.5"/><rect x="257.90" y="257.90" width="12.95" height="12.35" rx="4.5"/><rect x="269.65" y="257.90" width="12.95" height="12.35" rx="4.5"/><rect x="281.40" y="257.90" width="12.95" height="12.35" rx="4.5"/><circle cx="299.62" cy="264.38" r="1.5"/><rect x="304.90" y="257.90" width="12.95" height="12.35" rx="4.5"/><rect x="316.65" y="257.90" width="12.95" height="12.35" rx="4.5"/><rect x="328.40" y="257.90" width="12.95" height="12.35" rx="4.5"/><rect x="340.15" y="257.90" width="12.95" height="12.35" rx="4.5"/><circle cx="358.38" cy="264.38" r="5.6"/><rect x="363.65" y="257.90" width="12.35" height="12.35" rx="4.5"/></g></pattern>
<pattern id="pd" x="0" y="21" width="23.5" height="24" patternUnits="userSpaceOnUse">
<rect width="23.5" height="24" fill="#174c95"/><circle cx="17.62" cy="7" r="5.8" fill="#152b82"/>
<circle cx="5.88" cy="7" r="1.6" fill="#152b82"/><circle cx="5.88" cy="18.5" r="2" fill="#152b82"/><circle cx="17.62" cy="18.5" r="2" fill="#152b82"/></pattern>
<pattern id="pe" x="0" y="337" width="23.5" height="24" patternUnits="userSpaceOnUse">
<rect width="23.5" height="24" fill="#174c95"/><circle cx="17.62" cy="17.5" r="5.8" fill="#152b82"/>
<circle cx="5.88" cy="17.5" r="1.6" fill="#152b82"/><circle cx="5.88" cy="6" r="2" fill="#152b82"/><circle cx="17.62" cy="6" r="2" fill="#152b82"/></pattern>
<radialGradient id="glow"><stop offset="0.87" stop-color="#fff" stop-opacity="1"/><stop offset="0.92" stop-color="#fff" stop-opacity=".6"/><stop offset="1" stop-color="#fff" stop-opacity="0"/></radialGradient>
</defs>
<rect x="0" y="0" width="3508" height="16" fill="#173789"/>
<rect x="0" y="16" width="3508" height="345" fill="#152b82"/>
<rect x="0" y="21" width="3508" height="24" fill="url(#pd)"/>
<rect x="0" y="56" width="3508" height="270.25" fill="url(#pm)"/>
<rect x="0" y="337" width="3508" height="23.5" fill="url(#pe)"/>
</svg>
<div class="t" style="font-size:76.02px;color:#fff;left:1084.00px;top:64.05px;transform-origin:0 64.35px;transform:scaleX(1.0006);">Головне управління статистики у Кіровоградській області</div>
<div class="a" style="left:1083.0px;top:143.6px;width:2016.0px;height:5.2px;background:#fff;"></div>
<div class="t" style="font-size:95.93px;color:#fff;left:53.21px;top:191.80px;transform-origin:0 81.20px;font-weight:bold;transform:scaleX(0.7966);">Зовнішня торгівля товарами Кіровоградської області січень–червень 2024 року</div>
<svg width="3508" height="400" viewBox="0 0 3508 400">
<circle cx="3328" cy="192" r="146" fill="url(#glow)"/>
<circle cx="3328" cy="192" r="128.5" fill="#fff"/>
<circle cx="3328" cy="192" r="128" fill="none" stroke="#5a6aa8" stroke-width="0.8"/>
<circle cx="3328" cy="192" r="105.5" fill="none" stroke="#35468d" stroke-width="29"/>
<circle cx="3328" cy="192" r="85" fill="none" stroke="#35468d" stroke-width="1.6"/>
<path d="M3281.5 140 L3364.5 141.5 L3376 160 L3368 165 L3358 152.5 L3302 152.5 L3321 183 L3321 200.5 L3303 230.5 L3358 231 L3368 217.5 L3376.5 222 L3364.5 243 L3281.5 243.5 L3308 200.5 L3308 184 Z" fill="#35468d"/>
<path d="M3261 191.5 L3282 183 L3400 191 L3282 200.5 Z" fill="#f9a22e"/>
<defs><path id="arcT" d="M 3328 192 m -97.5 0 a 97.5 97.5 0 0 1 195 0"/>
<path id="arcB" d="M 3328 192 m -113.5 0 a 113.5 113.5 0 0 0 227 0"/></defs>
<g font-family="Liberation Mono, monospace" font-size="24" fill="#f9a22e">
<text letter-spacing="21.4"><textPath href="#arcT" startOffset="18.3">ДЕРЖСТАТ</textPath></text>
<text letter-spacing="25.6"><textPath href="#arcB" startOffset="50.2">УКРАЇНИ</textPath></text>
</g>
</svg>
<div class="t" style="font-size:68.31px;color:#0025a1;left:103.78px;top:407.07px;transform-origin:0 57.83px;transform:scaleX(1.0189);">Темпи зростання (зниження), у % до відповідного періоду попереднього року, наростаючим підсумком</div>
<div class="t" style="font-size:67.30px;color:#a64b0f;left:364.11px;top:511.73px;transform-origin:0 56.97px;font-style:italic;transform:scaleX(0.9959);">Експорт – 435,7 млн.дол. США</div>
<div class="t" style="font-size:67.30px;color:#a64b0f;left:2148.47px;top:511.73px;transform-origin:0 56.97px;font-style:italic;transform:scaleX(1.0154);">Імпорт – 117,8 млн.дол. США</div>
<div class="a" style="left:1742.0px;top:516.6px;width:10.0px;height:783.4px;background:#0025a1;"></div>
<div class="a" style="left:52.0px;top:1334.7px;width:3400.0px;height:10.0px;background:#0025a1;"></div>
<div class="a" style="left:1742.0px;top:1373.0px;width:10.0px;height:1061.0px;background:#0025a1;"></div>
<div class="a" style="left:1210.0px;top:1385.0px;width:945.0px;height:85.0px;background:#fff;"></div>
<div class="t" style="font-size:66.86px;color:#0025a1;left:1222.09px;top:1394.40px;transform-origin:0 56.60px;font-weight:bold;transform:scaleX(0.9526);">ОСНОВНІ КРАЇНИ-ПАРТНЕРИ</div>
<svg width="3508" height="1320" viewBox="0 0 3508 1320"><defs><linearGradient id="eg" x1="0" y1="0" x2="0" y2="1">
<stop offset="0" stop-color="#f7f9fd"/><stop offset="0.15" stop-color="#edf3fa"/><stop offset="0.45" stop-color="#d6e4f3"/>
<stop offset="0.62" stop-color="#c3d9ef"/><stop offset="0.80" stop-color="#b1d0eb"/><stop offset="1" stop-color="#cbddf1"/></linearGradient></defs><rect x="82.4" y="624.4" width="1574.1" height="667.1" fill="#fdfdfd" stroke="#d9d9d9" stroke-width="3"/><rect x="217.5" y="666.5" width="1388.5" height="443.3" fill="url(#eg)"/><linearGradient id="ev" x1="0" y1="0" x2="0" y2="1"><stop offset="0" stop-color="#aebde6" stop-opacity="0"/><stop offset=".45" stop-color="#aebde6" stop-opacity=".6"/><stop offset="1" stop-color="#aebde6" stop-opacity=".8"/></linearGradient><rect x="217.5" y="666.5" width="3.5" height="443.3" fill="url(#ev)"/><rect x="1602.5" y="666.5" width="3.5" height="443.3" fill="url(#ev)"/><rect x="220.5" y="1045.0" width="1382.5" height="3" fill="#d6d6d6"/><rect x="220.5" y="981.6" width="1382.5" height="3" fill="#d6d6d6"/><rect x="220.5" y="918.3" width="1382.5" height="3" fill="#d6d6d6"/><rect x="220.5" y="855.0" width="1382.5" height="3" fill="#d6d6d6"/><rect x="220.5" y="791.7" width="1382.5" height="3" fill="#d6d6d6"/><rect x="220.5" y="728.3" width="1382.5" height="3" fill="#d6d6d6"/><rect x="217.5" y="1108.3" width="1388.5" height="3.5" fill="#d2d2d2"/><polyline points="276.4,1057.2 391.9,987.6 507.3,774.2 622.8,733.6 738.3,788.1 853.8,811.5 969.2,835.6 1084.7,890.7 1200.2,954.6 1315.6,965.4 1431.1,967.9 1546.6,965.4" fill="none" stroke="#5b9bd5" stroke-width="9.5" stroke-linejoin="round" stroke-linecap="round"/><rect x="264.4" y="1047.7" width="24" height="19" fill="#5b9bd5" stroke="#0070c0" stroke-width="3.2" stroke-linejoin="round"/><rect x="379.9" y="978.1" width="24" height="19" fill="#5b9bd5" stroke="#0070c0" stroke-width="3.2" stroke-linejoin="round"/><rect x="495.3" y="764.7" width="24" height="19" fill="#5b9bd5" stroke="#0070c0" stroke-width="3.2" stroke-linejoin="round"/><rect x="610.8" y="724.1" width="24" height="19" fill="#5b9bd5" stroke="#0070c0" stroke-width="3.2" stroke-linejoin="round"/><rect x="726.3" y="778.6" width="24" height="19" fill="#5b9bd5" stroke="#0070c0" stroke-width="3.2" stroke-linejoin="round"/><rect x="841.8" y="802.0" width="24" height="19" fill="#5b9bd5" stroke="#0070c0" stroke-width="3.2" stroke-linejoin="round"/><rect x="957.2" y="826.1" width="24" height="19" fill="#5b9bd5" stroke="#0070c0" stroke-width="3.2" stroke-linejoin="round"/><rect x="1072.7" y="881.2" width="24" height="19" fill="#5b9bd5" stroke="#0070c0" stroke-width="3.2" stroke-linejoin="round"/><rect x="1188.2" y="945.1" width="24" height="19" fill="#5b9bd5" stroke="#0070c0" stroke-width="3.2" stroke-linejoin="round"/><rect x="1303.6" y="955.9" width="24" height="19" fill="#5b9bd5" stroke="#0070c0" stroke-width="3.2" stroke-linejoin="round"/><rect x="1419.1" y="958.4" width="24" height="19" fill="#5b9bd5" stroke="#0070c0" stroke-width="3.2" stroke-linejoin="round"/><rect x="1534.6" y="955.9" width="24" height="19" fill="#5b9bd5" stroke="#0070c0" stroke-width="3.2" stroke-linejoin="round"/><polyline points="276.4,954.6 391.9,942.6 507.3,1033.8 622.8,976.2 738.3,929.9 853.8,933.7" fill="none" stroke="#ed7d31" stroke-width="9.5" stroke-linejoin="round" stroke-linecap="round"/><rect x="264.4" y="945.1" width="24" height="19" fill="#ed7d31" stroke="#c55a11" stroke-width="3.2" stroke-linejoin="round"/><rect x="379.9" y="933.1" width="24" height="19" fill="#ed7d31" stroke="#c55a11" stroke-width="3.2" stroke-linejoin="round"/><rect x="495.3" y="1024.3" width="24" height="19" fill="#ed7d31" stroke="#c55a11" stroke-width="3.2" stroke-linejoin="round"/><rect x="610.8" y="966.7" width="24" height="19" fill="#ed7d31" stroke="#c55a11" stroke-width="3.2" stroke-linejoin="round"/><rect x="726.3" y="920.4" width="24" height="19" fill="#ed7d31" stroke="#c55a11" stroke-width="3.2" stroke-linejoin="round"/><rect x="841.8" y="924.2" width="24" height="19" fill="#ed7d31" stroke="#c55a11" stroke-width="3.2" stroke-linejoin="round"/><line x1="276.4" y1="919.8" x2="1546.6" y2="919.8" stroke="#a5a5a5" stroke-width="9" stroke-linecap="round"/><line x1="654.5" y1="1234.5" x2="747" y2="1234.5" stroke="#5b9bd5" stroke-width="9.5" stroke-linecap="round"/><rect x="688.0" y="1225.0" width="24" height="19" fill="#5b9bd5" stroke="#0070c0" stroke-width="3.2" stroke-linejoin="round"/><line x1="881.7" y1="1234.5" x2="974.2" y2="1234.5" stroke="#ed7d31" stroke-width="9.5" stroke-linecap="round"/><rect x="915.6" y="1225.0" width="24" height="19" fill="#ed7d31" stroke="#c55a11" stroke-width="3.2" stroke-linejoin="round"/></svg>
<div class="t" style="font-size:31.25px;color:#595959;left:136.88px;top:1094.40px;transform-origin:0 26.45px;transform:scaleX(1.2250);">70</div>
<div class="t" style="font-size:31.25px;color:#595959;left:136.88px;top:1031.07px;transform-origin:0 26.45px;transform:scaleX(1.2250);">80</div>
<div class="t" style="font-size:31.25px;color:#595959;left:136.88px;top:967.74px;transform-origin:0 26.45px;transform:scaleX(1.2250);">90</div>
<div class="t" style="font-size:31.25px;color:#595959;left:115.59px;top:904.41px;transform-origin:0 26.45px;transform:scaleX(1.2250);">100</div>
<div class="t" style="font-size:31.25px;color:#595959;left:118.44px;top:841.08px;transform-origin:0 26.45px;transform:scaleX(1.2250);">110</div>
<div class="t" style="font-size:31.25px;color:#595959;left:115.59px;top:777.75px;transform-origin:0 26.45px;transform:scaleX(1.2250);">120</div>
<div class="t" style="font-size:31.25px;color:#595959;left:115.59px;top:714.43px;transform-origin:0 26.45px;transform:scaleX(1.2250);">130</div>
<div class="t" style="font-size:31.25px;color:#595959;left:115.59px;top:651.10px;transform-origin:0 26.45px;transform:scaleX(1.2250);">140</div>
<div class="t" style="font-size:31.25px;color:#595959;left:265.38px;top:1140.85px;transform-origin:0 26.45px;transform:scaleX(1.2250);">1</div>
<div class="t" style="font-size:31.25px;color:#595959;left:381.46px;top:1140.85px;transform-origin:0 26.45px;transform:scaleX(1.2250);">2</div>
<div class="t" style="font-size:31.25px;color:#595959;left:496.93px;top:1140.85px;transform-origin:0 26.45px;transform:scaleX(1.2250);">3</div>
<div class="t" style="font-size:31.25px;color:#595959;left:612.40px;top:1140.85px;transform-origin:0 26.45px;transform:scaleX(1.2250);">4</div>
<div class="t" style="font-size:31.25px;color:#595959;left:727.25px;top:1140.85px;transform-origin:0 26.45px;transform:scaleX(1.2250);">5</div>
<div class="t" style="font-size:31.25px;color:#595959;left:843.34px;top:1140.85px;transform-origin:0 26.45px;transform:scaleX(1.2250);">6</div>
<div class="t" style="font-size:31.25px;color:#595959;left:958.81px;top:1140.85px;transform-origin:0 26.45px;transform:scaleX(1.2250);">7</div>
<div class="t" style="font-size:31.25px;color:#595959;left:1073.66px;top:1140.85px;transform-origin:0 26.45px;transform:scaleX(1.2250);">8</div>
<div class="t" style="font-size:31.25px;color:#595959;left:1189.75px;top:1140.85px;transform-origin:0 26.45px;transform:scaleX(1.2250);">9</div>
<div class="t" style="font-size:31.25px;color:#595959;left:1293.35px;top:1140.85px;transform-origin:0 26.45px;transform:scaleX(1.2250);">10</div>
<div class="t" style="font-size:31.25px;color:#595959;left:1410.85px;top:1140.85px;transform-origin:0 26.45px;transform:scaleX(1.2250);">11</div>
<div class="t" style="font-size:31.25px;color:#595959;left:1524.90px;top:1140.85px;transform-origin:0 26.45px;transform:scaleX(1.2250);">12</div>
<div class="t" style="font-size:31.25px;color:#404040;left:279.48px;top:1067.65px;transform-origin:0 26.45px;transform:scaleX(1.2250);">78,3</div>
<div class="t" style="font-size:31.25px;color:#404040;left:382.28px;top:1004.05px;transform-origin:0 26.45px;transform:scaleX(1.2250);">89,3</div>
<div class="t" style="font-size:31.25px;color:#404040;left:459.21px;top:712.45px;transform-origin:0 26.45px;transform:scaleX(1.2250);">123,0</div>
<div class="t" style="font-size:31.25px;color:#404040;left:574.61px;top:671.15px;transform-origin:0 26.45px;transform:scaleX(1.2250);">129,4</div>
<div class="t" style="font-size:31.25px;color:#404040;left:690.01px;top:725.75px;transform-origin:0 26.45px;transform:scaleX(1.2250);">120,8</div>
<div class="t" style="font-size:31.25px;color:#404040;left:806.94px;top:748.85px;transform-origin:0 26.45px;transform:scaleX(1.2250);">117,1</div>
<div class="t" style="font-size:31.25px;color:#404040;left:922.24px;top:773.25px;transform-origin:0 26.45px;transform:scaleX(1.2250);">113,3</div>
<div class="t" style="font-size:31.25px;color:#404040;left:1036.22px;top:828.65px;transform-origin:0 26.45px;transform:scaleX(1.2250);">104,6</div>
<div class="t" style="font-size:31.25px;color:#404040;left:1161.77px;top:891.65px;transform-origin:0 26.45px;transform:scaleX(1.2250);">94,5</div>
<div class="t" style="font-size:31.25px;color:#404040;left:1277.17px;top:902.75px;transform-origin:0 26.45px;transform:scaleX(1.2250);">92,8</div>
<div class="t" style="font-size:31.25px;color:#404040;left:1393.17px;top:905.45px;transform-origin:0 26.45px;transform:scaleX(1.2250);">92,4</div>
<div class="t" style="font-size:31.25px;color:#404040;left:1508.57px;top:902.75px;transform-origin:0 26.45px;transform:scaleX(1.2250);">92,8</div>
<div class="t" style="font-size:31.25px;color:#404040;left:253.77px;top:906.75px;transform-origin:0 26.45px;transform:scaleX(1.2250);">94,5</div>
<div class="t" style="font-size:31.25px;color:#404040;left:365.77px;top:891.95px;transform-origin:0 26.45px;transform:scaleX(1.2250);">96,4</div>
<div class="t" style="font-size:31.25px;color:#404040;left:469.37px;top:1069.15px;transform-origin:0 26.45px;transform:scaleX(1.2250);">82,0</div>
<div class="t" style="font-size:31.25px;color:#404040;left:585.98px;top:1011.95px;transform-origin:0 26.45px;transform:scaleX(1.2250);">91,1</div>
<div class="t" style="font-size:31.25px;color:#404040;left:700.57px;top:966.25px;transform-origin:0 26.45px;transform:scaleX(1.2250);">98,4</div>
<div class="t" style="font-size:31.25px;color:#404040;left:815.97px;top:968.45px;transform-origin:0 26.45px;transform:scaleX(1.2250);">97,8</div>
<div class="t" style="font-size:31.25px;color:#595959;left:757.38px;top:1217.85px;transform-origin:0 26.45px;transform:scaleX(1.2250);">2023</div>
<div class="t" style="font-size:31.25px;color:#595959;left:984.07px;top:1217.85px;transform-origin:0 26.45px;transform:scaleX(1.2250);">2024</div>
<svg width="3508" height="1320" viewBox="0 0 3508 1320"><defs><linearGradient id="ig" x1="0" y1="0" x2="0" y2="1">
<stop offset="0" stop-color="#f7f9fd"/><stop offset="0.15" stop-color="#edf3fa"/><stop offset="0.45" stop-color="#d6e4f3"/>
<stop offset="0.62" stop-color="#c3d9ef"/><stop offset="0.80" stop-color="#b1d0eb"/><stop offset="1" stop-color="#cbddf1"/></linearGradient></defs><rect x="1845.7" y="625.7" width="1580.1" height="664.1" fill="#fdfdfd" stroke="#d9d9d9" stroke-width="3"/><rect x="1978.8" y="669.3" width="1397.5" height="432.9" fill="url(#ig)"/><linearGradient id="iv" x1="0" y1="0" x2="0" y2="1"><stop offset="0" stop-color="#aebde6" stop-opacity="0"/><stop offset=".45" stop-color="#aebde6" stop-opacity=".6"/><stop offset="1" stop-color="#aebde6" stop-opacity=".8"/></linearGradient><rect x="1978.8" y="669.3" width="3.5" height="432.9" fill="url(#iv)"/><rect x="3372.8" y="669.3" width="3.5" height="432.9" fill="url(#iv)"/><rect x="1981.8" y="1028.5" width="1391.5" height="3" fill="#d6d6d6"/><rect x="1981.8" y="956.4" width="1391.5" height="3" fill="#d6d6d6"/><rect x="1981.8" y="884.2" width="1391.5" height="3" fill="#d6d6d6"/><rect x="1981.8" y="812.1" width="1391.5" height="3" fill="#d6d6d6"/><rect x="1981.8" y="740.0" width="1391.5" height="3" fill="#d6d6d6"/><rect x="1978.8" y="1100.7" width="1397.5" height="3.5" fill="#d2d2d2"/><polyline points="2038.2,1019.2 2154.5,1032.9 2270.8,754.4 2387.1,721.2 2503.4,694.6 2619.7,719.1 2736.0,758.0 2852.3,766.7 2968.6,765.3 3084.9,752.3 3201.2,771.8 3317.5,788.3" fill="none" stroke="#5b9bd5" stroke-width="9.5" stroke-linejoin="round" stroke-linecap="round"/><rect x="2026.2" y="1009.7" width="24" height="19" fill="#5b9bd5" stroke="#0070c0" stroke-width="3.2" stroke-linejoin="round"/><rect x="2142.5" y="1023.4" width="24" height="19" fill="#5b9bd5" stroke="#0070c0" stroke-width="3.2" stroke-linejoin="round"/><rect x="2258.8" y="744.9" width="24" height="19" fill="#5b9bd5" stroke="#0070c0" stroke-width="3.2" stroke-linejoin="round"/><rect x="2375.1" y="711.7" width="24" height="19" fill="#5b9bd5" stroke="#0070c0" stroke-width="3.2" stroke-linejoin="round"/><rect x="2491.4" y="685.1" width="24" height="19" fill="#5b9bd5" stroke="#0070c0" stroke-width="3.2" stroke-linejoin="round"/><rect x="2607.7" y="709.6" width="24" height="19" fill="#5b9bd5" stroke="#0070c0" stroke-width="3.2" stroke-linejoin="round"/><rect x="2724.0" y="748.5" width="24" height="19" fill="#5b9bd5" stroke="#0070c0" stroke-width="3.2" stroke-linejoin="round"/><rect x="2840.3" y="757.2" width="24" height="19" fill="#5b9bd5" stroke="#0070c0" stroke-width="3.2" stroke-linejoin="round"/><rect x="2956.6" y="755.8" width="24" height="19" fill="#5b9bd5" stroke="#0070c0" stroke-width="3.2" stroke-linejoin="round"/><rect x="3072.9" y="742.8" width="24" height="19" fill="#5b9bd5" stroke="#0070c0" stroke-width="3.2" stroke-linejoin="round"/><rect x="3189.2" y="762.3" width="24" height="19" fill="#5b9bd5" stroke="#0070c0" stroke-width="3.2" stroke-linejoin="round"/><rect x="3305.5" y="778.8" width="24" height="19" fill="#5b9bd5" stroke="#0070c0" stroke-width="3.2" stroke-linejoin="round"/><polyline points="2038.2,929.0 2154.5,856.9 2270.8,920.4 2387.1,895.9 2503.4,886.5 2619.7,879.3" fill="none" stroke="#ed7d31" stroke-width="9.5" stroke-linejoin="round" stroke-linecap="round"/><rect x="2026.2" y="919.5" width="24" height="19" fill="#ed7d31" stroke="#c55a11" stroke-width="3.2" stroke-linejoin="round"/><rect x="2142.5" y="847.4" width="24" height="19" fill="#ed7d31" stroke="#c55a11" stroke-width="3.2" stroke-linejoin="round"/><rect x="2258.8" y="910.9" width="24" height="19" fill="#ed7d31" stroke="#c55a11" stroke-width="3.2" stroke-linejoin="round"/><rect x="2375.1" y="886.4" width="24" height="19" fill="#ed7d31" stroke="#c55a11" stroke-width="3.2" stroke-linejoin="round"/><rect x="2491.4" y="877.0" width="24" height="19" fill="#ed7d31" stroke="#c55a11" stroke-width="3.2" stroke-linejoin="round"/><rect x="2607.7" y="869.8" width="24" height="19" fill="#ed7d31" stroke="#c55a11" stroke-width="3.2" stroke-linejoin="round"/><line x1="2038.2" y1="813.6" x2="3317.5" y2="813.6" stroke="#a5a5a5" stroke-width="9" stroke-linecap="round"/><polyline points="2154.8,1033.7 2169.2,997.4 2191,997.4" fill="none" stroke="#a6a6a6" stroke-width="3"/><line x1="2421" y1="1231" x2="2510.5" y2="1231" stroke="#5b9bd5" stroke-width="9.5" stroke-linecap="round"/><rect x="2453.6" y="1221.5" width="24" height="19" fill="#5b9bd5" stroke="#0070c0" stroke-width="3.2" stroke-linejoin="round"/><line x1="2644" y1="1231" x2="2735.5" y2="1231" stroke="#ed7d31" stroke-width="9.5" stroke-linecap="round"/><rect x="2677.6" y="1221.5" width="24" height="19" fill="#ed7d31" stroke="#c55a11" stroke-width="3.2" stroke-linejoin="round"/></svg>
<div class="t" style="font-size:31.25px;color:#595959;left:1898.18px;top:1086.80px;transform-origin:0 26.45px;transform:scaleX(1.2250);">60</div>
<div class="t" style="font-size:31.25px;color:#595959;left:1898.18px;top:1014.65px;transform-origin:0 26.45px;transform:scaleX(1.2250);">70</div>
<div class="t" style="font-size:31.25px;color:#595959;left:1898.18px;top:942.50px;transform-origin:0 26.45px;transform:scaleX(1.2250);">80</div>
<div class="t" style="font-size:31.25px;color:#595959;left:1898.18px;top:870.35px;transform-origin:0 26.45px;transform:scaleX(1.2250);">90</div>
<div class="t" style="font-size:31.25px;color:#595959;left:1876.89px;top:798.20px;transform-origin:0 26.45px;transform:scaleX(1.2250);">100</div>
<div class="t" style="font-size:31.25px;color:#595959;left:1879.74px;top:726.05px;transform-origin:0 26.45px;transform:scaleX(1.2250);">110</div>
<div class="t" style="font-size:31.25px;color:#595959;left:1876.89px;top:653.90px;transform-origin:0 26.45px;transform:scaleX(1.2250);">120</div>
<div class="t" style="font-size:31.25px;color:#595959;left:2027.17px;top:1135.05px;transform-origin:0 26.45px;transform:scaleX(1.2250);">1</div>
<div class="t" style="font-size:31.25px;color:#595959;left:2144.09px;top:1135.05px;transform-origin:0 26.45px;transform:scaleX(1.2250);">2</div>
<div class="t" style="font-size:31.25px;color:#595959;left:2260.39px;top:1135.05px;transform-origin:0 26.45px;transform:scaleX(1.2250);">3</div>
<div class="t" style="font-size:31.25px;color:#595959;left:2376.69px;top:1135.05px;transform-origin:0 26.45px;transform:scaleX(1.2250);">4</div>
<div class="t" style="font-size:31.25px;color:#595959;left:2492.38px;top:1135.05px;transform-origin:0 26.45px;transform:scaleX(1.2250);">5</div>
<div class="t" style="font-size:31.25px;color:#595959;left:2609.29px;top:1135.05px;transform-origin:0 26.45px;transform:scaleX(1.2250);">6</div>
<div class="t" style="font-size:31.25px;color:#595959;left:2725.59px;top:1135.05px;transform-origin:0 26.45px;transform:scaleX(1.2250);">7</div>
<div class="t" style="font-size:31.25px;color:#595959;left:2841.28px;top:1135.05px;transform-origin:0 26.45px;transform:scaleX(1.2250);">8</div>
<div class="t" style="font-size:31.25px;color:#595959;left:2958.19px;top:1135.05px;transform-origin:0 26.45px;transform:scaleX(1.2250);">9</div>
<div class="t" style="font-size:31.25px;color:#595959;left:3062.62px;top:1135.05px;transform-origin:0 26.45px;transform:scaleX(1.2250);">10</div>
<div class="t" style="font-size:31.25px;color:#595959;left:3180.95px;top:1135.05px;transform-origin:0 26.45px;transform:scaleX(1.2250);">11</div>
<div class="t" style="font-size:31.25px;color:#595959;left:3295.83px;top:1135.05px;transform-origin:0 26.45px;transform:scaleX(1.2250);">12</div>
<div class="t" style="font-size:31.25px;color:#404040;left:2001.27px;top:954.25px;transform-origin:0 26.45px;transform:scaleX(1.2250);">71,5</div>
<div class="t" style="font-size:31.25px;color:#404040;left:2205.58px;top:983.95px;transform-origin:0 26.45px;transform:scaleX(1.2250);">69,6</div>
<div class="t" style="font-size:31.25px;color:#404040;left:2222.92px;top:691.15px;transform-origin:0 26.45px;transform:scaleX(1.2250);">108,2</div>
<div class="t" style="font-size:31.25px;color:#404040;left:2340.43px;top:656.95px;transform-origin:0 26.45px;transform:scaleX(1.2250);">112,8</div>
<div class="t" style="font-size:31.25px;color:#404040;left:2456.23px;top:640.15px;transform-origin:0 26.45px;transform:scaleX(1.2250);">116,5</div>
<div class="t" style="font-size:31.25px;color:#404040;left:2572.64px;top:655.15px;transform-origin:0 26.45px;transform:scaleX(1.2250);">113,1</div>
<div class="t" style="font-size:31.25px;color:#404040;left:2687.42px;top:694.65px;transform-origin:0 26.45px;transform:scaleX(1.2250);">107,7</div>
<div class="t" style="font-size:31.25px;color:#404040;left:2803.11px;top:703.55px;transform-origin:0 26.45px;transform:scaleX(1.2250);">106,5</div>
<div class="t" style="font-size:31.25px;color:#404040;left:2920.32px;top:702.15px;transform-origin:0 26.45px;transform:scaleX(1.2250);">106,7</div>
<div class="t" style="font-size:31.25px;color:#404040;left:3035.71px;top:688.85px;transform-origin:0 26.45px;transform:scaleX(1.2250);">108,5</div>
<div class="t" style="font-size:31.25px;color:#404040;left:3152.61px;top:707.95px;transform-origin:0 26.45px;transform:scaleX(1.2250);">105,8</div>
<div class="t" style="font-size:31.25px;color:#404040;left:3268.41px;top:724.35px;transform-origin:0 26.45px;transform:scaleX(1.2250);">103,5</div>
<div class="t" style="font-size:31.25px;color:#404040;left:2001.27px;top:865.55px;transform-origin:0 26.45px;transform:scaleX(1.2250);">84,0</div>
<div class="t" style="font-size:31.25px;color:#404040;left:2117.57px;top:793.15px;transform-origin:0 26.45px;transform:scaleX(1.2250);">94,0</div>
<div class="t" style="font-size:31.25px;color:#404040;left:2233.28px;top:856.15px;transform-origin:0 26.45px;transform:scaleX(1.2250);">85,2</div>
<div class="t" style="font-size:31.25px;color:#404040;left:2350.28px;top:830.95px;transform-origin:0 26.45px;transform:scaleX(1.2250);">88,6</div>
<div class="t" style="font-size:31.25px;color:#404040;left:2466.48px;top:822.05px;transform-origin:0 26.45px;transform:scaleX(1.2250);">89,9</div>
<div class="t" style="font-size:31.25px;color:#404040;left:2582.78px;top:815.35px;transform-origin:0 26.45px;transform:scaleX(1.2250);">90,9</div>
<div class="t" style="font-size:31.25px;color:#595959;left:2521.18px;top:1214.75px;transform-origin:0 26.45px;transform:scaleX(1.2250);">2023</div>
<div class="t" style="font-size:31.25px;color:#595959;left:2745.18px;top:1214.75px;transform-origin:0 26.45px;transform:scaleX(1.2250);">2024</div>
<div class="a" style="left:51.3px;top:1373.1px;width:725.5px;height:253.9px;background:#fff;border:4px solid #0025a1;box-sizing:border-box;"></div>
<div class="t" style="font-size:33.43px;color:#0b0b5c;left:73.81px;top:1391.40px;transform-origin:0 28.30px;font-weight:bold;transform:scaleX(0.9466);">Найбільше експортовано:</div>
<div class="t" style="font-size:32.70px;color:#0b0b5c;left:183.70px;top:1436.32px;transform-origin:0 27.68px;transform:scaleX(1.0083);">Жири та олії тваринного або</div>
<svg width="26" height="26" style="left:130.6px;top:1436.0px" viewBox="0 0 25 25"><path d="M0 14.8 L3.4 12.3 L7.3 19.2 C11 11 17 4.2 24.1 0 L24.8 1 C18.2 6.6 12.4 14.6 8.6 24.3 L6 24.3 Z" fill="#0b0b5c"/></svg>
<div class="t" style="font-size:32.70px;color:#0b0b5c;left:181.62px;top:1480.32px;transform-origin:0 27.68px;transform:scaleX(1.0422);">рослинного походження</div>
<div class="t" style="font-size:32.70px;color:#0b0b5c;left:181.62px;top:1524.42px;transform-origin:0 27.68px;transform:scaleX(1.0381);">Продукти рослинного походження</div>
<svg width="26" height="26" style="left:130.6px;top:1524.1px" viewBox="0 0 25 25"><path d="M0 14.8 L3.4 12.3 L7.3 19.2 C11 11 17 4.2 24.1 0 L24.8 1 C18.2 6.6 12.4 14.6 8.6 24.3 L6 24.3 Z" fill="#0b0b5c"/></svg>
<div class="t" style="font-size:32.70px;color:#0b0b5c;left:181.64px;top:1577.02px;transform-origin:0 27.68px;transform:scaleX(1.0290);">Готові харчові продукти</div>
<svg width="26" height="26" style="left:130.6px;top:1576.7px" viewBox="0 0 25 25"><path d="M0 14.8 L3.4 12.3 L7.3 19.2 C11 11 17 4.2 24.1 0 L24.8 1 C18.2 6.6 12.4 14.6 8.6 24.3 L6 24.3 Z" fill="#0b0b5c"/></svg>
<div class="a" style="left:2346.3px;top:1366.1px;width:1107.3px;height:304.9px;background:#fff;border:4px solid #0025a1;box-sizing:border-box;"></div>
<div class="t" style="font-size:33.87px;color:#0b0b5c;left:3053.55px;top:1385.13px;transform-origin:0 28.67px;font-weight:bold;transform:scaleX(0.9743);">Імпортні надходження:</div>
<div class="t" style="font-size:32.70px;color:#0b0b5c;left:2412.63px;top:1431.82px;transform-origin:0 27.68px;transform:scaleX(1.0345);">машини, обладнання та механізми; електротехнічне обладнання</div>
<svg width="26" height="26" style="left:2361.7px;top:1431.5px" viewBox="0 0 25 25"><path d="M0 14.8 L3.4 12.3 L7.3 19.2 C11 11 17 4.2 24.1 0 L24.8 1 C18.2 6.6 12.4 14.6 8.6 24.3 L6 24.3 Z" fill="#0b0b5c"/></svg>
<div class="t" style="font-size:32.70px;color:#0b0b5c;left:2448.40px;top:1476.72px;transform-origin:0 27.68px;transform:scaleX(1.0199);">засоби наземного транспорту, літальні апарати, плавучі засоби</div>
<svg width="26" height="26" style="left:2395.4px;top:1476.4px" viewBox="0 0 25 25"><path d="M0 14.8 L3.4 12.3 L7.3 19.2 C11 11 17 4.2 24.1 0 L24.8 1 C18.2 6.6 12.4 14.6 8.6 24.3 L6 24.3 Z" fill="#0b0b5c"/></svg>
<div class="t" style="font-size:32.70px;color:#0b0b5c;left:2600.90px;top:1521.82px;transform-origin:0 27.68px;transform:scaleX(1.0391);">жири та олії тваринного або рослинного походження</div>
<svg width="26" height="26" style="left:2547.9px;top:1521.5px" viewBox="0 0 25 25"><path d="M0 14.8 L3.4 12.3 L7.3 19.2 C11 11 17 4.2 24.1 0 L24.8 1 C18.2 6.6 12.4 14.6 8.6 24.3 L6 24.3 Z" fill="#0b0b5c"/></svg>
<div class="t" style="font-size:32.70px;color:#0b0b5c;left:2463.64px;top:1567.52px;transform-origin:0 27.68px;transform:scaleX(1.0317);">продукція хімічної та пов&#x27;язаних з нею галузей промисловості</div>
<svg width="26" height="26" style="left:2412.7px;top:1567.2px" viewBox="0 0 25 25"><path d="M0 14.8 L3.4 12.3 L7.3 19.2 C11 11 17 4.2 24.1 0 L24.8 1 C18.2 6.6 12.4 14.6 8.6 24.3 L6 24.3 Z" fill="#0b0b5c"/></svg>
<div class="t" style="font-size:32.70px;color:#0b0b5c;left:3104.60px;top:1620.82px;transform-origin:0 27.68px;transform:scaleX(1.0524);">мінеральні продукти</div>
<svg width="26" height="26" style="left:3053.7px;top:1620.5px" viewBox="0 0 25 25"><path d="M0 14.8 L3.4 12.3 L7.3 19.2 C11 11 17 4.2 24.1 0 L24.8 1 C18.2 6.6 12.4 14.6 8.6 24.3 L6 24.3 Z" fill="#0b0b5c"/></svg>
<div class="a" style="left:49.1px;top:1694.4px;width:1313.7px;height:741.4px;background:linear-gradient(180deg,#ffffff 0%,#fbfbfb 12%,#efefef 28%,#dfdfdf 45%,#d9d9d9 56%,#dbdbdb 74.5%,#e8e8e8 76%,#f1f1f1 82%,#f9f9f9 89%,#fefefe 100%);border:3px solid #d9d9d9;box-sizing:border-box;"></div>
<div class="a" style="left:52.1px;top:1697.4px;width:1266.9px;height:557.3px;overflow:hidden"><svg width="3508" height="2480" viewBox="0 0 3508 2480"><defs><filter id="eb" x="-20%" y="-40%" width="140%" height="180%"><feGaussianBlur stdDeviation="7"/></filter><linearGradient id="es" x1="0" y1="1" x2="0" y2="0"><stop offset="0" stop-color="#000" stop-opacity=".25"/><stop offset=".6" stop-color="#000" stop-opacity=".22"/><stop offset="1" stop-color="#000" stop-opacity=".12"/></linearGradient></defs><g filter="url(#eb)"><polygon points="71.3,553.3 173.3,553.3 375.5,434.5 273.5,434.5" fill="url(#es)"/><polygon points="223.9,553.3 325.9,553.3 465.0,471.6 363.0,471.6" fill="url(#es)"/><polygon points="376.6,553.3 478.6,553.3 611.6,475.1 509.6,475.1" fill="url(#es)"/><polygon points="529.2,553.3 631.2,553.3 731.7,494.3 629.7,494.3" fill="url(#es)"/><polygon points="681.8,553.3 783.8,553.3 879.2,497.3 777.2,497.3" fill="url(#es)"/><polygon points="834.4,553.3 936.4,553.3 1023.8,502.0 921.8,502.0" fill="url(#es)"/><polygon points="987.1,553.3 1089.1,553.3 1172.3,504.4 1070.3,504.4" fill="url(#es)"/><polygon points="1139.7,553.3 1241.7,553.3 1324.7,504.5 1222.7,504.5" fill="url(#es)"/></g></svg></div>
<div class="a" style="left:117.4px;top:1745.3px;width:108.0px;height:505.4px;background:radial-gradient(circle farthest-corner at 50% 50%,#fff 0%,#fff 42%,#b7d3ee 70%,#5b9bd5 100%);"></div>
<div class="t" style="font-size:32.99px;color:#10215f;left:104.65px;top:1709.57px;transform-origin:0 27.93px;font-weight:bold;transform:scaleX(1.1229);">49216,2</div>
<div class="t" style="font-size:28.34px;color:#14206a;left:100.93px;top:2338.55px;transform-origin:0 23.99px;transform:rotate(-39deg) scaleX(1.1336);">Іспанія</div>
<div class="a" style="left:270.0px;top:1903.0px;width:108.0px;height:347.7px;background:radial-gradient(circle farthest-corner at 50% 50%,#fff 0%,#fff 42%,#b7d3ee 70%,#5b9bd5 100%);"></div>
<div class="t" style="font-size:32.99px;color:#10215f;left:257.28px;top:1847.58px;transform-origin:0 27.93px;font-weight:bold;transform:scaleX(1.1229);">33858,3</div>
<div class="t" style="font-size:28.34px;color:#14206a;left:264.43px;top:2329.75px;transform-origin:0 23.99px;transform:rotate(-39deg) scaleX(1.1898);">Італія</div>
<div class="a" style="left:422.7px;top:1918.0px;width:108.0px;height:332.7px;background:radial-gradient(circle farthest-corner at 50% 50%,#fff 0%,#fff 42%,#b7d3ee 70%,#5b9bd5 100%);"></div>
<div class="t" style="font-size:32.99px;color:#10215f;left:409.91px;top:1862.62px;transform-origin:0 27.93px;font-weight:bold;transform:scaleX(1.1229);">32394,1</div>
<div class="t" style="font-size:28.34px;color:#14206a;left:392.34px;top:2349.77px;transform-origin:0 23.99px;transform:rotate(-39deg) scaleX(1.1198);">Польща</div>
<div class="a" style="left:575.3px;top:1999.5px;width:108.0px;height:251.2px;background:radial-gradient(circle farthest-corner at 50% 50%,#fff 0%,#fff 42%,#b7d3ee 70%,#5b9bd5 100%);"></div>
<div class="t" style="font-size:32.99px;color:#10215f;left:561.41px;top:1944.06px;transform-origin:0 27.93px;font-weight:bold;transform:scaleX(1.1325);">24462,6</div>
<div class="t" style="font-size:28.34px;color:#14206a;left:563.73px;top:2334.57px;transform-origin:0 23.99px;transform:rotate(-39deg) scaleX(1.2665);">Китай</div>
<div class="a" style="left:727.9px;top:2012.3px;width:108.0px;height:238.4px;background:radial-gradient(circle farthest-corner at 50% 50%,#fff 0%,#fff 42%,#b7d3ee 70%,#5b9bd5 100%);"></div>
<div class="t" style="font-size:32.99px;color:#10215f;left:714.03px;top:1956.86px;transform-origin:0 27.93px;font-weight:bold;transform:scaleX(1.1421);">23216,7</div>
<div class="t" style="font-size:28.34px;color:#14206a;left:732.94px;top:2321.15px;transform-origin:0 23.99px;transform:rotate(-39deg) scaleX(1.2174);">Лівія</div>
<div class="a" style="left:880.5px;top:2032.3px;width:108.0px;height:218.4px;background:radial-gradient(circle farthest-corner at 50% 50%,#fff 0%,#fff 42%,#b7d3ee 70%,#5b9bd5 100%);"></div>
<div class="t" style="font-size:32.99px;color:#10215f;left:866.67px;top:1976.86px;transform-origin:0 27.93px;font-weight:bold;transform:scaleX(1.1325);">21268,5</div>
<div class="t" style="font-size:28.34px;color:#14206a;left:868.67px;top:2334.83px;transform-origin:0 23.99px;transform:rotate(-39deg) scaleX(1.0601);">Єгипет</div>
<div class="a" style="left:1033.2px;top:2042.7px;width:108.0px;height:208.0px;background:radial-gradient(circle farthest-corner at 50% 50%,#fff 0%,#fff 42%,#b7d3ee 70%,#5b9bd5 100%);"></div>
<div class="t" style="font-size:32.99px;color:#10215f;left:1019.30px;top:1987.27px;transform-origin:0 27.93px;font-weight:bold;transform:scaleX(1.1325);">20254,8</div>
<div class="t" style="font-size:28.34px;color:#14206a;left:979.76px;top:2368.47px;transform-origin:0 23.99px;transform:rotate(-39deg) scaleX(1.0832);">Туреччина</div>
<div class="a" style="left:1185.8px;top:2043.2px;width:108.0px;height:207.5px;background:radial-gradient(circle farthest-corner at 50% 50%,#fff 0%,#fff 42%,#b7d3ee 70%,#5b9bd5 100%);"></div>
<div class="t" style="font-size:32.99px;color:#10215f;left:1171.94px;top:1987.81px;transform-origin:0 27.93px;font-weight:bold;transform:scaleX(1.1229);">20202,4</div>
<div class="t" style="font-size:28.34px;color:#14206a;left:1159.90px;top:2346.20px;transform-origin:0 23.99px;transform:rotate(-39deg) scaleX(1.1022);">Румунія</div>
<div class="a" style="left:423.5px;top:1688.0px;width:570.2px;height:92.6px;background:#fff;"></div>
<div class="a" style="left:448.1px;top:1704.8px;width:520.8px;height:61.4px;background:#b4c7e7;"></div>
<div class="t" style="font-size:37.94px;color:#000;left:505.23px;top:1711.89px;transform-origin:0 32.11px;transform:scaleX(1.0578);">Експорт тис.дол.США</div>
<div class="a" style="left:1021.0px;top:1758.3px;width:554.0px;height:193.9px;background:#fff;"></div>
<div class="a" style="left:1045.3px;top:1773.4px;width:520.8px;height:164.4px;background:#dae3f3;"></div>
<div class="t" style="font-size:41.42px;color:#000;left:1068.98px;top:1781.23px;transform-origin:0 35.07px;transform:scaleX(1.0724);">Експортували товари з</div>
<div class="t" style="font-size:41.42px;color:#000;left:1095.12px;top:1836.93px;transform-origin:0 35.07px;transform:scaleX(1.0823);">області до 105 країн</div>
<div class="t" style="font-size:41.42px;color:#000;left:1257.26px;top:1892.53px;transform-origin:0 35.07px;transform:scaleX(1.0358);">світу</div>
<div class="a" style="left:2004.6px;top:1706.8px;width:1446.0px;height:737.2px;background:linear-gradient(180deg,#ffffff 0%,#fcfcfc 8%,#f1f1f1 22%,#e4e4e4 36%,#dcdcdc 50%,#dadada 58%,#dedede 68%,#ebebeb 80%,#f7f7f7 89%,#fcfcfc 100%);border:3px solid #d9d9d9;box-sizing:border-box;"></div>
<div class="a" style="left:2007.6px;top:1709.8px;width:1440.0px;height:658.2px;overflow:hidden"><svg width="3508" height="2480" viewBox="0 0 3508 2480"><defs><filter id="ib" x="-20%" y="-40%" width="140%" height="180%"><feGaussianBlur stdDeviation="8"/></filter><linearGradient id="is" x1="0" y1="1" x2="0" y2="0"><stop offset="0" stop-color="#000" stop-opacity=".25"/><stop offset=".6" stop-color="#000" stop-opacity=".22"/><stop offset="1" stop-color="#000" stop-opacity=".12"/></linearGradient></defs><g filter="url(#ib)"><polygon points="128.6,654.2 282.6,654.2 476.3,540.4 322.3,540.4" fill="url(#is)"/><polygon points="353.9,654.2 507.9,654.2 685.8,549.7 531.8,549.7" fill="url(#is)"/><polygon points="579.2,654.2 733.2,654.2 812.3,607.7 658.3,607.7" fill="url(#is)"/><polygon points="804.5,654.2 958.5,654.2 1016.1,620.4 862.1,620.4" fill="url(#is)"/><polygon points="1029.8,654.2 1183.8,654.2 1229.8,627.2 1075.8,627.2" fill="url(#is)"/><polygon points="1255.1,654.2 1409.1,654.2 1445.5,632.8 1291.5,632.8" fill="url(#is)"/></g></svg></div>
<div class="a" style="left:2130.2px;top:1879.7px;width:160.0px;height:484.3px;background:radial-gradient(circle farthest-corner at 50% 50%,#fff 0%,#fff 37%,#f7c5a4 70%,#ed7d31 100%);"></div>
<div class="t" style="font-size:38.52px;color:#843c0c;left:2140.70px;top:1816.09px;transform-origin:0 32.61px;font-weight:bold;transform:scaleX(1.0014);">24732,9</div>
<div class="t" style="font-size:36.77px;color:#14206a;left:2162.00px;top:2395.37px;transform-origin:0 31.13px;transform:scaleX(0.9656);">Китай</div>
<div class="a" style="left:2355.5px;top:1919.4px;width:160.0px;height:444.6px;background:radial-gradient(circle farthest-corner at 50% 50%,#fff 0%,#fff 37%,#f7c5a4 70%,#ed7d31 100%);"></div>
<div class="t" style="font-size:38.52px;color:#843c0c;left:2366.01px;top:1855.75px;transform-origin:0 32.61px;font-weight:bold;transform:scaleX(0.9942);">22707,6</div>
<div class="t" style="font-size:36.77px;color:#14206a;left:2349.68px;top:2395.37px;transform-origin:0 31.13px;transform:scaleX(0.9412);">Німеччина</div>
<div class="a" style="left:2580.8px;top:2166.1px;width:160.0px;height:197.9px;background:radial-gradient(circle farthest-corner at 50% 50%,#fff 0%,#fff 37%,#f7c5a4 70%,#ed7d31 100%);"></div>
<div class="t" style="font-size:38.52px;color:#843c0c;left:2590.30px;top:2102.54px;transform-origin:0 32.61px;font-weight:bold;transform:scaleX(1.0014);">10104,5</div>
<div class="t" style="font-size:36.77px;color:#14206a;left:2623.64px;top:2395.37px;transform-origin:0 31.13px;transform:scaleX(0.8618);">США</div>
<div class="a" style="left:2806.1px;top:2220.1px;width:160.0px;height:143.9px;background:radial-gradient(circle farthest-corner at 50% 50%,#fff 0%,#fff 37%,#f7c5a4 70%,#ed7d31 100%);"></div>
<div class="t" style="font-size:38.52px;color:#843c0c;left:2826.59px;top:2156.46px;transform-origin:0 32.61px;font-weight:bold;transform:scaleX(1.0053);">7350,8</div>
<div class="t" style="font-size:36.77px;color:#14206a;left:2822.81px;top:2395.37px;transform-origin:0 31.13px;transform:scaleX(0.9305);">Румунія</div>
<div class="a" style="left:3031.4px;top:2249.1px;width:160.0px;height:114.9px;background:radial-gradient(circle farthest-corner at 50% 50%,#fff 0%,#fff 37%,#f7c5a4 70%,#ed7d31 100%);"></div>
<div class="t" style="font-size:38.52px;color:#843c0c;left:3051.89px;top:2185.50px;transform-origin:0 32.61px;font-weight:bold;transform:scaleX(1.0140);">5867,7</div>
<div class="t" style="font-size:36.77px;color:#14206a;left:3028.90px;top:2395.37px;transform-origin:0 31.13px;transform:scaleX(0.9260);">Туреччина</div>
<div class="a" style="left:3256.7px;top:2272.9px;width:160.0px;height:91.1px;background:radial-gradient(circle farthest-corner at 50% 50%,#fff 0%,#fff 37%,#f7c5a4 70%,#ed7d31 100%);"></div>
<div class="t" style="font-size:38.52px;color:#843c0c;left:3278.20px;top:2209.30px;transform-origin:0 32.61px;font-weight:bold;transform:scaleX(1.0053);">4652,2</div>
<div class="t" style="font-size:36.77px;color:#14206a;left:3273.90px;top:2395.37px;transform-origin:0 31.13px;transform:scaleX(0.8976);">Польща</div>
<div class="a" style="left:2448.8px;top:1686.0px;width:582.7px;height:110.7px;background:#fff;"></div>
<div class="a" style="left:2473.5px;top:1691.5px;width:532.7px;height:89.0px;background:#fbe5d6;"></div>
<div class="t" style="font-size:42.15px;color:#000;left:2543.65px;top:1701.62px;transform-origin:0 35.68px;transform:scaleX(0.9845);">Імпорт тис.дол.США</div>
<div class="a" style="left:2903.0px;top:1836.2px;width:589.0px;height:183.6px;background:#fff;"></div>
<div class="a" style="left:2928.1px;top:1853.2px;width:532.5px;height:150.4px;background:#f8cbad;"></div>
<div class="t" style="font-size:45.06px;color:#000;left:2938.51px;top:1863.66px;transform-origin:0 38.14px;transform:scaleX(1.0306);">Надходження імпорту –</div>
<div class="t" style="font-size:45.06px;color:#000;left:3035.60px;top:1926.86px;transform-origin:0 38.14px;transform:scaleX(1.0009);">з 78 країн світу</div>
<svg width="3508" height="2480" viewBox="0 0 3508 2480">
<g transform="translate(1400,1720) scale(0.3327)">
<defs><clipPath id="gc"><circle cx="1065" cy="804" r="725"/></clipPath></defs>
<path d="M97 822 L340 783 L340 862 L290 862 Q180 850 97 822 Z" fill="#c4540c"/>
<path d="M1780 876 C1850 890 1890 915 1908 950 L1862 972 L1770 1045 Z" fill="#2b8cd6"/>
<circle cx="1065" cy="804" r="726" fill="#dddddd"/>
<circle cx="1065" cy="806" r="635" fill="#064a82"/>
<g clip-path="url(#gc)" fill="none" stroke="#dddddd" stroke-width="92">
<line x1="1065" y1="100" x2="1065" y2="1500"/>
<line x1="380" y1="793" x2="1750" y2="793"/>
<ellipse cx="1058" cy="806" rx="371" ry="655"/>
<path d="M430 318 Q1065 556 1700 318"/>
<path d="M430 1276 Q1065 1038 1700 1276"/>
</g>
<path d="M133 580 C400 512 800 458 1160 420 L1155 295 L1512 480 L1218 792 L1200 672 C800 712 400 768 97 822 Z" fill="#ed7d31"/>
<path d="M990 1195 C1300 1182 1580 1120 1765 1040 L1862 968 L1908 950 L1930 1180 C1700 1330 1350 1430 1025 1455 L1030 1570 L655 1345 L980 1080 Z" fill="#5ea9e1"/>
</g></svg>
<div class="t" style="font-size:62.50px;color:#fff;left:1526.42px;top:1905.63px;transform-origin:0 52.91px;font-weight:bold;transform:rotate(-7.5deg) scaleX(1.0299);">IMPORT</div>
<div class="t" style="font-size:63.95px;color:#fff;left:1764.22px;top:2130.15px;transform-origin:0 54.14px;font-weight:bold;transform:rotate(-11.8deg) scaleX(0.9658);">EXPORT</div>
</body></html>
